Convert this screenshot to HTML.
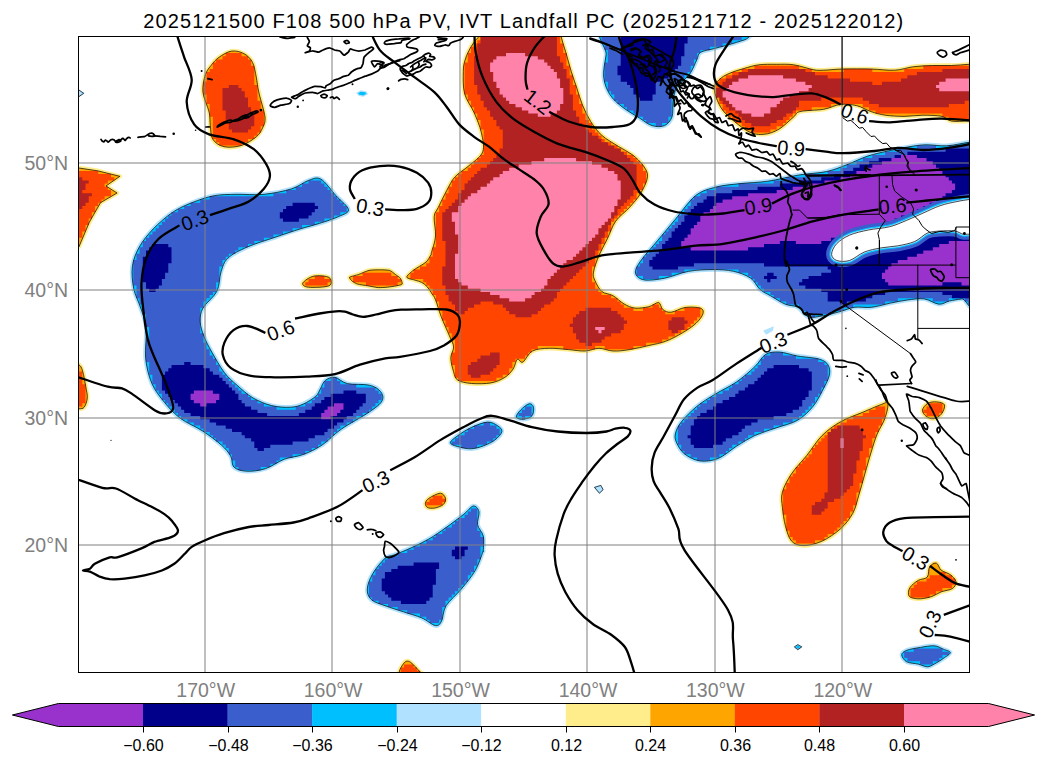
<!DOCTYPE html><html><head><meta charset="utf-8"><title>map</title><style>html,body{margin:0;padding:0;background:#fff;font-family:"Liberation Sans",sans-serif}svg{display:block}</style></head><body>
<svg width="1047" height="765" viewBox="0 0 1047 765">
<rect width="1047" height="765" fill="#fff"/>
<defs><clipPath id="ax"><rect x="78.5" y="36.5" width="891.0" height="636.0"/></clipPath></defs>
<g clip-path="url(#ax)">
<defs><path id="s0" d="M231.4 51.1C235.6 50.5 240.3 51.7 243.9 53.6C247.4 55.5 250.5 58.4 252.5 62.3C254.6 66.2 255.2 72.2 256.3 77.2C257.3 82.2 257.3 85.5 258.8 92.1C260.2 98.7 264.3 110.9 265.0 116.9C265.6 122.9 263.9 124.8 262.5 128.1C261.0 131.4 259.8 133.9 256.3 136.8C252.8 139.7 246.8 143.8 241.4 145.5C236.0 147.1 228.7 147.8 224.0 146.7C219.2 145.7 215.1 142.8 212.8 139.3C210.5 135.8 210.9 130.2 210.3 125.6C209.7 121.1 210.3 117.5 209.1 112.0C207.8 106.4 203.5 98.3 202.9 92.1C202.3 85.9 203.9 79.3 205.4 74.7C206.8 70.2 209.3 67.7 211.6 64.8C213.8 61.9 215.7 59.6 219.0 57.3C222.3 55.0 227.3 51.7 231.4 51.1Z"/></defs>
<use href="#s0" fill="#FFA500" stroke="#FFEC8B" stroke-width="4.4" stroke-linejoin="round"/>
<use href="#s0" fill="#FFA500"/>
<path d="M241.6 53.0L225.7 53.0L225.7 56.2L222.5 56.2L222.5 59.4L216.1 59.4L216.1 62.6L212.9 62.6L212.9 69.0L254.3 69.0L254.3 65.8L251.1 65.8L251.1 59.4L248.0 59.4L248.0 56.2L241.6 56.2ZM206.5 75.3L254.3 75.3L254.3 69.0L209.7 69.0L209.7 72.1L206.5 72.1ZM206.5 75.3L206.5 78.5L254.3 78.5L254.3 75.3ZM206.5 78.5L206.5 81.7L203.4 81.7L203.4 84.9L254.3 84.9L254.3 78.5ZM257.5 91.3L257.5 84.9L203.4 84.9L203.4 91.3ZM203.4 91.3L203.4 94.4L257.5 94.4L257.5 91.3ZM257.5 94.4L206.5 94.4L206.5 104.0L260.7 104.0L260.7 100.8L257.5 100.8ZM216.1 142.2L219.3 142.2L219.3 145.4L241.6 145.4L241.6 142.2L248.0 142.2L248.0 139.0L254.3 139.0L254.3 135.8L257.5 135.8L257.5 132.6L260.7 132.6L260.7 126.3L212.9 126.3L212.9 139.0L216.1 139.0ZM263.9 113.5L263.9 110.4L260.7 110.4L260.7 104.0L209.7 104.0L209.7 113.5ZM209.7 113.5L209.7 116.7L263.9 116.7L263.9 113.5ZM263.9 116.7L212.9 116.7L212.9 123.1L263.9 123.1ZM212.9 123.1L212.9 126.3L263.9 126.3L263.9 123.1Z" fill="#FF4500" fill-rule="evenodd"/>
<path d="M228.8 88.1L222.5 88.1L222.5 91.3L241.6 91.3L241.6 88.1L238.4 88.1L238.4 84.9L228.8 84.9ZM244.8 91.3L222.5 91.3L222.5 94.4L244.8 94.4ZM222.5 104.0L248.0 104.0L248.0 97.6L244.8 97.6L244.8 94.4L222.5 94.4ZM248.0 104.0L222.5 104.0L222.5 110.4L225.7 110.4L225.7 113.5L251.1 113.5L251.1 107.2L248.0 107.2ZM254.3 113.5L225.7 113.5L225.7 116.7L254.3 116.7ZM228.8 123.1L254.3 123.1L254.3 116.7L225.7 116.7L225.7 119.9L228.8 119.9ZM254.3 123.1L228.8 123.1L228.8 126.3L254.3 126.3ZM228.8 129.5L232.0 129.5L232.0 132.6L248.0 132.6L248.0 129.5L251.1 129.5L251.1 126.3L228.8 126.3Z" fill="#B22222" fill-rule="evenodd"/>
<defs><path id="s1" d="M70.0 166.6L78.9 168.0L97.7 170.8L119.9 176.3L106.0 186.0L117.1 193.0L100.5 202.7L89.4 222.1L78.9 247.0L70.0 249.8Z"/></defs>
<use href="#s1" fill="#FFA500" stroke="#FFEC8B" stroke-width="4.4" stroke-linejoin="round"/>
<use href="#s1" fill="#FFA500"/>
<path d="M75.9 167.7L72.8 167.7L72.8 247.3L79.1 247.3L79.1 237.7L82.3 237.7L82.3 231.4L85.5 231.4L85.5 225.0L88.7 225.0L88.7 218.6L91.9 218.6L91.9 212.3L95.1 212.3L95.1 205.9L98.2 205.9L98.2 202.7L101.4 202.7L101.4 199.5L104.6 199.5L104.6 196.3L111.0 196.3L111.0 190.0L107.8 190.0L107.8 186.8L104.6 186.8L104.6 183.6L107.8 183.6L107.8 180.4L114.2 180.4L114.2 177.2L111.0 177.2L111.0 174.0L98.2 174.0L98.2 170.9L75.9 170.9Z" fill="#FF4500" fill-rule="evenodd"/>
<path d="M82.3 177.2L69.6 177.2L69.6 212.3L79.1 212.3L79.1 209.1L82.3 209.1L82.3 205.9L85.5 205.9L85.5 202.7L88.7 202.7L88.7 196.3L91.9 196.3L91.9 193.2L82.3 193.2L82.3 190.0L85.5 190.0L85.5 183.6L88.7 183.6L88.7 180.4L82.3 180.4Z" fill="#B22222" fill-rule="evenodd"/>
<defs><path id="s2" d="M70.0 363.1C71.5 355.7 76.7 363.4 78.8 364.7C80.9 366.0 81.5 367.3 82.6 371.0C83.8 374.7 85.0 382.3 85.8 386.7C86.5 391.2 87.6 394.4 87.3 397.8C87.1 401.2 85.6 405.4 84.2 407.2C82.8 409.1 81.2 408.5 78.8 408.8C76.5 409.1 71.5 416.4 70.0 408.8C68.5 401.2 68.5 370.4 70.0 363.1Z"/></defs>
<use href="#s2" fill="#FFA500" stroke="#FFEC8B" stroke-width="4.4" stroke-linejoin="round"/>
<use href="#s2" fill="#FFA500"/>
<path d="M72.8 365.1L69.6 365.1L69.6 406.5L72.8 406.5L72.8 409.7L75.9 409.7L75.9 406.5L82.3 406.5L82.3 403.3L85.5 403.3L85.5 384.2L82.3 384.2L82.3 371.5L79.1 371.5L79.1 365.1L75.9 365.1L75.9 361.9L72.8 361.9Z" fill="#FF4500" fill-rule="evenodd"/>
<defs><path id="s3" d="M348.5 209.6C348.0 206.1 340.7 200.8 336.0 195.7C331.4 190.6 325.4 181.6 320.8 179.1C316.2 176.6 313.2 178.9 308.3 180.5C303.5 182.1 299.1 186.5 291.7 188.8C284.3 191.1 273.2 193.4 264.0 194.3C254.7 195.3 244.6 194.1 236.3 194.3C228.0 194.6 221.5 194.3 214.1 195.7C206.7 197.1 198.9 199.9 191.9 202.7C185.0 205.4 179.0 208.0 172.5 212.4C166.1 216.7 158.7 223.2 153.1 229.0C147.6 234.8 142.7 240.8 139.3 247.0C135.8 253.2 133.3 259.5 132.4 266.4C131.4 273.3 132.4 281.6 133.7 288.6C135.1 295.5 138.6 301.5 140.7 308.0C142.7 314.4 145.4 319.0 146.2 327.4C147.0 335.8 144.7 349.0 145.6 358.4C146.6 367.7 148.8 376.2 151.9 383.6C155.1 390.9 159.8 396.7 164.6 402.5C169.3 408.3 174.0 413.5 180.3 418.3C186.6 423.0 195.5 426.4 202.4 430.9C209.2 435.3 216.6 440.8 221.3 445.0C226.0 449.2 228.6 452.4 230.7 456.1C232.8 459.8 231.3 464.6 233.9 467.1C236.5 469.6 241.3 470.9 246.5 471.2C251.8 471.5 259.1 470.7 265.4 468.7C271.7 466.7 278.0 461.6 284.3 459.2C290.6 456.9 296.9 456.9 303.2 454.5C309.5 452.1 315.8 449.2 322.1 445.0C328.5 440.8 333.2 434.8 341.1 429.3C348.9 423.8 362.6 416.7 369.4 411.9C376.3 407.2 380.2 404.3 382.0 400.9C383.9 397.5 382.6 394.1 380.5 391.5C378.4 388.8 374.9 386.5 369.4 385.2C363.9 383.8 353.1 384.9 347.4 383.6C341.6 382.3 338.4 377.8 334.8 377.3C331.1 376.8 327.7 378.6 325.3 380.4C322.9 382.3 322.1 385.7 320.6 388.3C319.0 390.9 318.7 393.6 315.8 396.2C313.0 398.8 307.4 402.2 303.2 404.1C299.0 405.9 295.9 407.0 290.6 407.2C285.4 407.5 278.0 407.2 271.7 405.6C265.4 404.1 258.6 401.2 252.8 397.8C247.0 394.4 241.8 389.4 237.0 385.2C232.3 381.0 228.6 378.1 224.4 372.6C220.2 367.0 215.2 358.1 211.8 352.1C208.4 346.0 205.9 341.3 204.0 336.3C202.0 331.3 200.4 326.5 200.2 321.8C200.1 317.1 200.2 313.0 203.0 308.0C205.8 302.9 213.9 297.3 216.9 291.3C219.9 285.3 219.2 277.5 221.0 271.9C222.9 266.4 223.6 262.2 228.0 258.1C232.3 253.9 239.5 250.5 247.4 247.0C255.2 243.5 266.3 240.3 275.1 237.3C283.8 234.3 292.6 231.3 300.0 229.0C307.4 226.7 312.9 225.5 319.4 223.4C325.9 221.4 334.0 218.8 338.8 216.5C343.7 214.2 349.0 213.0 348.5 209.6Z"/></defs>
<use href="#s3" fill="#00BFFF" stroke="#B0E2FF" stroke-width="4.4" stroke-linejoin="round"/>
<use href="#s3" fill="#00BFFF"/>
<path d="M133.3 285.5L136.5 285.5L136.5 298.2L139.6 298.2L139.6 304.6L142.8 304.6L142.8 314.2L146.0 314.2L146.0 326.9L149.2 326.9L149.2 339.6L146.0 339.6L146.0 361.9L149.2 361.9L149.2 374.7L152.4 374.7L152.4 384.2L155.6 384.2L155.6 390.6L158.8 390.6L158.8 393.8L161.9 393.8L161.9 400.1L165.1 400.1L165.1 403.3L168.3 403.3L168.3 406.5L171.5 406.5L171.5 409.7L174.7 409.7L174.7 412.9L177.9 412.9L177.9 416.0L181.1 416.0L181.1 419.2L187.4 419.2L187.4 422.4L193.8 422.4L193.8 425.6L200.2 425.6L200.2 428.8L203.4 428.8L203.4 432.0L209.7 432.0L209.7 435.2L212.9 435.2L212.9 438.3L216.1 438.3L216.1 441.5L222.5 441.5L222.5 444.7L225.7 444.7L225.7 447.9L228.8 447.9L228.8 454.3L232.0 454.3L232.0 460.6L235.2 460.6L235.2 467.0L238.4 467.0L238.4 470.2L260.7 470.2L260.7 467.0L270.3 467.0L270.3 463.8L276.6 463.8L276.6 460.6L279.8 460.6L279.8 457.4L292.6 457.4L292.6 454.3L305.3 454.3L305.3 451.1L311.7 451.1L311.7 447.9L318.0 447.9L318.0 444.7L321.2 444.7L321.2 441.5L327.6 441.5L327.6 438.3L330.8 438.3L330.8 435.2L334.0 435.2L334.0 432.0L337.1 432.0L337.1 428.8L340.3 428.8L340.3 425.6L346.7 425.6L346.7 422.4L353.1 422.4L353.1 419.2L356.3 419.2L356.3 416.0L362.6 416.0L362.6 412.9L369.0 412.9L369.0 409.7L372.2 409.7L372.2 406.5L375.4 406.5L375.4 403.3L378.6 403.3L378.6 400.1L381.7 400.1L381.7 393.8L378.6 393.8L378.6 390.6L375.4 390.6L375.4 387.4L356.3 387.4L356.3 384.2L340.3 384.2L340.3 381.0L337.1 381.0L337.1 377.8L330.8 377.8L330.8 381.0L324.4 381.0L324.4 387.4L321.2 387.4L321.2 393.8L318.0 393.8L318.0 396.9L314.8 396.9L314.8 400.1L311.7 400.1L311.7 403.3L305.3 403.3L305.3 406.5L295.7 406.5L295.7 409.7L276.6 409.7L276.6 406.5L263.9 406.5L263.9 403.3L257.5 403.3L257.5 400.1L251.1 400.1L251.1 396.9L248.0 396.9L248.0 393.8L241.6 393.8L241.6 390.6L238.4 390.6L238.4 387.4L235.2 387.4L235.2 384.2L232.0 384.2L232.0 381.0L228.8 381.0L228.8 377.8L225.7 377.8L225.7 374.7L222.5 374.7L222.5 371.5L219.3 371.5L219.3 365.1L216.1 365.1L216.1 358.7L212.9 358.7L212.9 355.5L209.7 355.5L209.7 349.2L206.5 349.2L206.5 342.8L203.4 342.8L203.4 333.3L200.2 333.3L200.2 307.8L203.4 307.8L203.4 301.4L206.5 301.4L206.5 298.2L209.7 298.2L209.7 295.0L212.9 295.0L212.9 291.9L216.1 291.9L216.1 282.3L219.3 282.3L219.3 266.4L222.5 266.4L222.5 260.0L225.7 260.0L225.7 256.8L228.8 256.8L228.8 253.7L235.2 253.7L235.2 250.5L238.4 250.5L238.4 247.3L248.0 247.3L248.0 244.1L254.3 244.1L254.3 240.9L263.9 240.9L263.9 237.7L273.4 237.7L273.4 234.5L283.0 234.5L283.0 231.4L292.6 231.4L292.6 228.2L302.1 228.2L302.1 225.0L314.8 225.0L314.8 221.8L324.4 221.8L324.4 218.6L334.0 218.6L334.0 215.4L340.3 215.4L340.3 212.3L346.7 212.3L346.7 205.9L343.5 205.9L343.5 202.7L340.3 202.7L340.3 199.5L337.1 199.5L337.1 196.3L334.0 196.3L334.0 193.2L330.8 193.2L330.8 190.0L327.6 190.0L327.6 186.8L324.4 186.8L324.4 183.6L321.2 183.6L321.2 180.4L308.5 180.4L308.5 183.6L302.1 183.6L302.1 186.8L295.7 186.8L295.7 190.0L286.2 190.0L286.2 193.2L273.4 193.2L273.4 196.3L209.7 196.3L209.7 199.5L200.2 199.5L200.2 202.7L190.6 202.7L190.6 205.9L184.2 205.9L184.2 209.1L177.9 209.1L177.9 212.3L171.5 212.3L171.5 215.4L168.3 215.4L168.3 218.6L165.1 218.6L165.1 221.8L161.9 221.8L161.9 225.0L158.8 225.0L158.8 228.2L155.6 228.2L155.6 231.4L152.4 231.4L152.4 234.5L149.2 234.5L149.2 237.7L146.0 237.7L146.0 240.9L142.8 240.9L142.8 247.3L139.6 247.3L139.6 253.7L136.5 253.7L136.5 260.0L133.3 260.0Z" fill="#3A5FCD" fill-rule="evenodd"/>
<path d="M292.6 202.7L292.6 205.9L286.2 205.9L286.2 209.1L283.0 209.1L283.0 212.3L279.8 212.3L279.8 218.6L283.0 218.6L283.0 221.8L298.9 221.8L298.9 218.6L308.5 218.6L308.5 215.4L311.7 215.4L311.7 212.3L314.8 212.3L314.8 209.1L318.0 209.1L318.0 205.9L314.8 205.9L314.8 202.7Z" fill="#00008B" fill-rule="evenodd"/>
<path d="M142.8 282.3L146.0 282.3L146.0 288.7L149.2 288.7L149.2 291.9L155.6 291.9L155.6 288.7L158.8 288.7L158.8 285.5L161.9 285.5L161.9 279.1L165.1 279.1L165.1 272.8L168.3 272.8L168.3 263.2L171.5 263.2L171.5 247.3L168.3 247.3L168.3 244.1L152.4 244.1L152.4 247.3L149.2 247.3L149.2 250.5L146.0 250.5L146.0 256.8L142.8 256.8Z" fill="#00008B" fill-rule="evenodd"/>
<path d="M171.5 368.3L168.3 368.3L168.3 371.5L165.1 371.5L165.1 374.7L161.9 374.7L161.9 390.6L165.1 390.6L165.1 393.8L168.3 393.8L168.3 396.9L171.5 396.9L171.5 400.1L174.7 400.1L174.7 403.3L177.9 403.3L177.9 406.5L181.1 406.5L181.1 409.7L184.2 409.7L184.2 412.9L190.6 412.9L190.6 416.0L200.2 416.0L200.2 419.2L209.7 419.2L209.7 422.4L216.1 422.4L216.1 425.6L225.7 425.6L225.7 428.8L232.0 428.8L232.0 432.0L241.6 432.0L241.6 435.2L244.8 435.2L244.8 438.3L251.1 438.3L251.1 441.5L254.3 441.5L254.3 447.9L257.5 447.9L257.5 451.1L263.9 451.1L263.9 447.9L270.3 447.9L270.3 444.7L292.6 444.7L292.6 441.5L308.5 441.5L308.5 438.3L314.8 438.3L314.8 435.2L324.4 435.2L324.4 432.0L327.6 432.0L327.6 428.8L334.0 428.8L334.0 425.6L337.1 425.6L337.1 422.4L343.5 422.4L343.5 419.2L346.7 419.2L346.7 416.0L353.1 416.0L353.1 412.9L356.3 412.9L356.3 409.7L359.4 409.7L359.4 406.5L362.6 406.5L362.6 403.3L365.8 403.3L365.8 393.8L356.3 393.8L356.3 390.6L343.5 390.6L343.5 393.8L330.8 393.8L330.8 396.9L324.4 396.9L324.4 400.1L321.2 400.1L321.2 403.3L314.8 403.3L314.8 406.5L311.7 406.5L311.7 409.7L305.3 409.7L305.3 412.9L298.9 412.9L298.9 416.0L267.1 416.0L267.1 412.9L257.5 412.9L257.5 409.7L251.1 409.7L251.1 406.5L244.8 406.5L244.8 403.3L241.6 403.3L241.6 400.1L238.4 400.1L238.4 393.8L235.2 393.8L235.2 390.6L232.0 390.6L232.0 387.4L228.8 387.4L228.8 384.2L225.7 384.2L225.7 381.0L222.5 381.0L222.5 377.8L219.3 377.8L219.3 374.7L212.9 374.7L212.9 371.5L209.7 371.5L209.7 368.3L203.4 368.3L203.4 365.1L190.6 365.1L190.6 361.9L184.2 361.9L184.2 365.1L171.5 365.1Z" fill="#00008B" fill-rule="evenodd"/>
<path d="M193.8 390.6L193.8 393.8L190.6 393.8L190.6 400.1L193.8 400.1L193.8 403.3L200.2 403.3L200.2 406.5L206.5 406.5L206.5 403.3L216.1 403.3L216.1 400.1L219.3 400.1L219.3 393.8L212.9 393.8L212.9 390.6Z" fill="#9932CC" fill-rule="evenodd"/>
<path d="M334.0 403.3L334.0 406.5L327.6 406.5L327.6 409.7L324.4 409.7L324.4 412.9L321.2 412.9L321.2 419.2L330.8 419.2L330.8 416.0L337.1 416.0L337.1 412.9L340.3 412.9L340.3 409.7L343.5 409.7L343.5 403.3Z" fill="#9932CC" fill-rule="evenodd"/>
<defs><path id="s4" d="M485.4 21.7C472.2 24.0 481.3 32.1 479.3 35.5C477.4 39.0 475.5 39.9 473.8 42.5C472.0 45.0 470.3 47.8 468.8 50.8C467.3 53.8 465.8 57.0 464.9 60.5C464.0 63.9 463.3 66.0 463.3 71.6C463.2 77.1 462.8 86.8 464.6 93.7C466.5 100.7 471.6 106.7 474.3 113.1C477.1 119.6 479.9 126.1 481.3 132.5C482.7 139.0 484.7 146.4 482.7 151.9C480.6 157.5 473.4 161.6 468.8 165.8C464.2 169.9 458.6 172.7 454.9 176.9C451.2 181.0 449.4 185.7 446.6 190.7C443.9 195.8 440.4 203.0 438.3 207.4C436.2 211.7 434.6 211.8 434.2 216.6C433.7 221.4 436.0 230.0 435.5 236.0C435.1 242.0 432.2 249.5 431.4 252.7C430.6 255.8 431.7 253.4 430.9 254.9C430.0 256.4 428.2 259.9 426.3 261.8C424.4 263.7 421.7 264.8 419.4 266.4C417.1 267.9 414.6 269.1 412.5 270.9C410.4 272.8 406.4 275.7 406.8 277.2C407.2 278.8 412.3 279.3 414.8 280.1C417.3 281.0 419.6 281.3 421.7 282.4C423.8 283.6 425.7 285.1 427.4 287.0C429.1 288.9 430.7 291.7 432.0 293.9C433.4 296.0 434.0 296.0 435.5 299.8C437.1 303.5 438.8 310.4 441.1 316.4C443.4 322.4 447.3 330.7 449.4 335.8C451.5 340.9 453.3 343.2 453.6 346.9C453.8 350.6 450.8 353.8 450.8 358.0C450.8 362.1 452.4 368.1 453.6 371.8C454.7 375.5 454.7 378.2 457.7 380.1C460.7 382.1 466.0 383.0 471.6 383.5C477.1 383.9 485.4 383.9 491.0 382.9C496.5 381.9 501.1 379.7 504.8 377.4C508.5 375.1 511.1 372.0 513.1 369.0C515.2 366.0 515.7 360.5 517.3 359.3C518.9 358.2 520.3 363.5 522.8 362.1C525.4 360.7 528.1 353.3 532.5 351.0C536.9 348.7 543.2 348.5 549.2 348.3C555.2 348.0 562.6 349.2 568.6 349.6C574.6 350.1 580.1 351.3 585.2 351.0C590.3 350.8 594.4 348.3 599.0 348.3C603.7 348.3 607.8 350.8 612.9 351.0C618.0 351.3 623.5 350.6 629.5 349.6C635.5 348.7 642.9 346.9 648.9 345.5C654.9 344.1 660.0 343.4 665.6 341.3C671.1 339.3 677.1 336.0 682.2 333.0C687.3 330.0 692.6 326.6 696.0 323.3C699.5 320.1 702.3 316.2 703.0 313.6C703.7 311.1 703.2 309.1 700.2 308.1C697.2 307.1 689.8 306.8 685.0 307.5C680.1 308.2 674.8 311.9 671.1 312.2C667.4 312.6 664.9 311.1 662.8 309.5C660.7 307.8 660.9 303.0 658.6 302.5C656.3 302.1 652.9 305.8 648.9 306.7C645.0 307.6 639.2 308.5 635.1 308.1C630.9 307.6 627.7 306.0 624.0 303.9C620.3 301.8 616.6 297.7 612.9 295.6C609.2 293.5 604.8 294.0 601.8 291.5C598.8 288.9 596.3 283.6 594.9 280.4C593.5 277.1 592.8 276.2 593.5 272.1C594.2 267.9 596.7 261.0 599.0 255.4C601.4 249.9 604.6 244.5 607.4 238.8C610.1 233.1 612.0 226.5 615.7 221.2C619.4 216.0 625.4 212.0 629.5 207.4C633.7 202.7 637.6 198.6 640.6 193.5C643.6 188.4 647.1 181.5 647.5 176.9C648.0 172.3 645.9 169.5 643.4 165.8C640.8 162.1 636.5 157.9 632.3 154.7C628.1 151.5 623.5 149.6 618.4 146.4C613.4 143.2 606.4 139.5 601.8 135.3C597.2 131.2 594.0 126.5 590.7 121.5C587.5 116.4 584.7 110.4 582.4 104.8C580.1 99.3 578.7 93.7 576.9 88.2C575.0 82.7 573.2 77.6 571.3 71.6C569.5 65.6 567.5 58.2 565.8 52.2C564.0 46.2 562.0 40.6 560.8 35.5C559.6 30.5 571.4 24.0 558.9 21.7C546.3 19.4 498.7 19.4 485.4 21.7Z"/></defs>
<use href="#s4" fill="#FFA500" stroke="#FFEC8B" stroke-width="4.4" stroke-linejoin="round"/>
<use href="#s4" fill="#FFA500"/>
<path d="M467.8 62.6L464.6 62.6L464.6 69.0L569.7 69.0L569.7 65.8L566.5 65.8L566.5 53.0L563.3 53.0L563.3 43.5L560.1 43.5L560.1 27.6L480.5 27.6L480.5 40.3L477.3 40.3L477.3 43.5L474.1 43.5L474.1 46.7L470.9 46.7L470.9 53.0L467.8 53.0ZM569.7 75.3L569.7 69.0L464.6 69.0L464.6 75.3ZM432.7 256.8L429.5 256.8L429.5 263.2L426.3 263.2L426.3 266.4L420.0 266.4L420.0 269.6L413.6 269.6L413.6 272.8L410.4 272.8L410.4 279.1L423.2 279.1L423.2 282.3L426.3 282.3L426.3 285.5L429.5 285.5L429.5 288.7L432.7 288.7L432.7 295.0L435.9 295.0L435.9 301.4L439.1 301.4L439.1 311.0L442.3 311.0L442.3 320.5L445.5 320.5L445.5 326.9L448.6 326.9L448.6 333.3L451.8 333.3L451.8 339.6L455.0 339.6L455.0 352.4L451.8 352.4L451.8 365.1L455.0 365.1L455.0 377.8L458.2 377.8L458.2 381.0L496.4 381.0L496.4 377.8L502.8 377.8L502.8 374.7L509.2 374.7L509.2 368.3L512.4 368.3L512.4 361.9L515.5 361.9L515.5 358.7L525.1 358.7L525.1 355.5L528.3 355.5L528.3 352.4L531.5 352.4L531.5 349.2L537.8 349.2L537.8 346.0L563.3 346.0L563.3 349.2L595.2 349.2L595.2 346.0L604.7 346.0L604.7 349.2L633.4 349.2L633.4 346.0L646.1 346.0L646.1 342.8L662.1 342.8L662.1 339.6L668.4 339.6L668.4 336.4L674.8 336.4L674.8 333.3L681.2 333.3L681.2 330.1L687.6 330.1L687.6 326.9L690.7 326.9L690.7 323.7L693.9 323.7L693.9 320.5L697.1 320.5L697.1 317.3L700.3 317.3L700.3 307.8L684.4 307.8L684.4 311.0L674.8 311.0L674.8 314.2L665.3 314.2L665.3 311.0L662.1 311.0L662.1 307.8L658.9 307.8L658.9 304.6L652.5 304.6L652.5 307.8L643.0 307.8L643.0 311.0L633.4 311.0L633.4 307.8L623.8 307.8L623.8 304.6L620.7 304.6L620.7 301.4L617.5 301.4L617.5 298.2L611.1 298.2L611.1 295.0L601.5 295.0L601.5 291.9L598.4 291.9L598.4 288.7L595.2 288.7L595.2 282.3L592.0 282.3L592.0 266.4L595.2 266.4L595.2 256.8L598.4 256.8L598.4 250.5L601.5 250.5L601.5 244.1L604.7 244.1L604.7 237.7L607.9 237.7L607.9 231.4L611.1 231.4L611.1 221.8L614.3 221.8L614.3 218.6L617.5 218.6L617.5 215.4L620.7 215.4L620.7 212.3L623.8 212.3L623.8 209.1L627.0 209.1L627.0 205.9L630.2 205.9L630.2 202.7L633.4 202.7L633.4 199.5L636.6 199.5L636.6 193.2L639.8 193.2L639.8 190.0L643.0 190.0L643.0 183.6L646.1 183.6L646.1 170.9L643.0 170.9L643.0 164.5L639.8 164.5L639.8 161.3L636.6 161.3L636.6 158.1L633.4 158.1L633.4 154.9L627.0 154.9L627.0 151.8L620.7 151.8L620.7 148.6L617.5 148.6L617.5 145.4L611.1 145.4L611.1 142.2L604.7 142.2L604.7 139.0L601.5 139.0L601.5 135.8L598.4 135.8L598.4 132.6L595.2 132.6L595.2 129.5L592.0 129.5L592.0 126.3L480.5 126.3L480.5 129.5L483.7 129.5L483.7 154.9L480.5 154.9L480.5 158.1L477.3 158.1L477.3 161.3L474.1 161.3L474.1 164.5L470.9 164.5L470.9 167.7L467.8 167.7L467.8 170.9L461.4 170.9L461.4 174.0L458.2 174.0L458.2 177.2L455.0 177.2L455.0 180.4L451.8 180.4L451.8 186.8L448.6 186.8L448.6 193.2L445.5 193.2L445.5 199.5L442.3 199.5L442.3 205.9L439.1 205.9L439.1 212.3L435.9 212.3L435.9 247.3L432.7 247.3ZM563.3 24.4L556.9 24.4L556.9 21.2L490.1 21.2L490.1 24.4L480.5 24.4L480.5 27.6L563.3 27.6ZM572.9 78.5L572.9 75.3L464.6 75.3L464.6 78.5ZM464.6 84.9L572.9 84.9L572.9 78.5L464.6 78.5ZM576.1 84.9L464.6 84.9L464.6 91.3L576.1 91.3ZM576.1 94.4L576.1 91.3L464.6 91.3L464.6 94.4ZM467.8 94.4L467.8 100.8L470.9 100.8L470.9 104.0L579.2 104.0L579.2 94.4ZM582.4 104.0L470.9 104.0L470.9 107.2L474.1 107.2L474.1 113.5L582.4 113.5ZM585.6 116.7L585.6 113.5L477.3 113.5L477.3 116.7ZM480.5 119.9L480.5 123.1L588.8 123.1L588.8 119.9L585.6 119.9L585.6 116.7L477.3 116.7L477.3 119.9ZM592.0 126.3L592.0 123.1L480.5 123.1L480.5 126.3Z" fill="#FF4500" fill-rule="evenodd"/>
<path d="M477.3 56.2L474.1 56.2L474.1 69.0L563.3 69.0L563.3 62.6L560.1 62.6L560.1 56.2L556.9 56.2L556.9 30.8L547.4 30.8L547.4 27.6L493.2 27.6L493.2 30.8L483.7 30.8L483.7 33.9L480.5 33.9L480.5 43.5L477.3 43.5ZM445.5 266.4L442.3 266.4L442.3 285.5L445.5 285.5L445.5 295.0L448.6 295.0L448.6 301.4L451.8 301.4L451.8 304.6L455.0 304.6L455.0 311.0L458.2 311.0L458.2 314.2L464.6 314.2L464.6 311.0L467.8 311.0L467.8 307.8L474.1 307.8L474.1 304.6L480.5 304.6L480.5 301.4L493.2 301.4L493.2 304.6L502.8 304.6L502.8 307.8L506.0 307.8L506.0 311.0L509.2 311.0L509.2 314.2L515.5 314.2L515.5 317.3L531.5 317.3L531.5 314.2L537.8 314.2L537.8 311.0L541.0 311.0L541.0 307.8L544.2 307.8L544.2 304.6L550.6 304.6L550.6 301.4L553.8 301.4L553.8 298.2L556.9 298.2L556.9 291.9L560.1 291.9L560.1 288.7L563.3 288.7L563.3 285.5L566.5 285.5L566.5 282.3L569.7 282.3L569.7 279.1L572.9 279.1L572.9 275.9L576.1 275.9L576.1 272.8L579.2 272.8L579.2 269.6L582.4 269.6L582.4 266.4L585.6 266.4L585.6 263.2L588.8 263.2L588.8 260.0L592.0 260.0L592.0 256.8L595.2 256.8L595.2 250.5L598.4 250.5L598.4 244.1L601.5 244.1L601.5 237.7L604.7 237.7L604.7 231.4L607.9 231.4L607.9 225.0L611.1 225.0L611.1 218.6L614.3 218.6L614.3 215.4L617.5 215.4L617.5 209.1L620.7 209.1L620.7 205.9L623.8 205.9L623.8 202.7L627.0 202.7L627.0 199.5L630.2 199.5L630.2 196.3L633.4 196.3L633.4 190.0L636.6 190.0L636.6 164.5L633.4 164.5L633.4 161.3L630.2 161.3L630.2 158.1L627.0 158.1L627.0 154.9L623.8 154.9L623.8 151.8L620.7 151.8L620.7 148.6L614.3 148.6L614.3 145.4L607.9 145.4L607.9 142.2L601.5 142.2L601.5 139.0L598.4 139.0L598.4 135.8L592.0 135.8L592.0 132.6L588.8 132.6L588.8 129.5L585.6 129.5L585.6 126.3L499.6 126.3L499.6 129.5L502.8 129.5L502.8 148.6L499.6 148.6L499.6 154.9L496.4 154.9L496.4 158.1L493.2 158.1L493.2 161.3L490.1 161.3L490.1 164.5L486.9 164.5L486.9 167.7L480.5 167.7L480.5 170.9L477.3 170.9L477.3 174.0L474.1 174.0L474.1 177.2L470.9 177.2L470.9 180.4L467.8 180.4L467.8 183.6L464.6 183.6L464.6 190.0L461.4 190.0L461.4 193.2L458.2 193.2L458.2 199.5L455.0 199.5L455.0 202.7L451.8 202.7L451.8 205.9L448.6 205.9L448.6 209.1L445.5 209.1L445.5 212.3L442.3 212.3L442.3 240.9L445.5 240.9ZM566.5 75.3L566.5 69.0L474.1 69.0L474.1 75.3ZM566.5 78.5L566.5 75.3L474.1 75.3L474.1 78.5ZM474.1 84.9L569.7 84.9L569.7 78.5L474.1 78.5ZM569.7 84.9L477.3 84.9L477.3 91.3L569.7 91.3ZM477.3 94.4L569.7 94.4L569.7 91.3L477.3 91.3ZM572.9 104.0L572.9 94.4L480.5 94.4L480.5 100.8L483.7 100.8L483.7 104.0ZM490.1 113.5L576.1 113.5L576.1 110.4L572.9 110.4L572.9 104.0L483.7 104.0L483.7 107.2L486.9 107.2L486.9 110.4L490.1 110.4ZM576.1 116.7L576.1 113.5L490.1 113.5L490.1 116.7ZM496.4 119.9L496.4 123.1L579.2 123.1L579.2 116.7L493.2 116.7L493.2 119.9ZM582.4 126.3L582.4 123.1L496.4 123.1L496.4 126.3Z" fill="#B22222" fill-rule="evenodd"/>
<path d="M496.4 56.2L496.4 59.4L493.2 59.4L493.2 62.6L490.1 62.6L490.1 69.0L550.6 69.0L550.6 65.8L547.4 65.8L547.4 62.6L544.2 62.6L544.2 59.4L537.8 59.4L537.8 56.2L525.1 56.2L525.1 53.0L506.0 53.0L506.0 56.2ZM493.2 72.1L493.2 75.3L556.9 75.3L556.9 72.1L553.8 72.1L553.8 69.0L490.1 69.0L490.1 72.1ZM556.9 75.3L493.2 75.3L493.2 78.5L556.9 78.5ZM493.2 78.5L493.2 81.7L496.4 81.7L496.4 84.9L560.1 84.9L560.1 78.5ZM496.4 84.9L496.4 88.1L499.6 88.1L499.6 91.3L563.3 91.3L563.3 88.1L560.1 88.1L560.1 84.9ZM563.3 91.3L499.6 91.3L499.6 94.4L563.3 94.4ZM506.0 100.8L509.2 100.8L509.2 104.0L563.3 104.0L563.3 94.4L502.8 94.4L502.8 97.6L506.0 97.6ZM521.9 110.4L528.3 110.4L528.3 113.5L556.9 113.5L556.9 110.4L560.1 110.4L560.1 104.0L515.5 104.0L515.5 107.2L521.9 107.2ZM537.8 113.5L537.8 116.7L550.6 116.7L550.6 113.5Z" fill="#FF82AB" fill-rule="evenodd"/>
<path d="M455.0 279.1L458.2 279.1L458.2 282.3L461.4 282.3L461.4 285.5L467.8 285.5L467.8 288.7L480.5 288.7L480.5 291.9L490.1 291.9L490.1 295.0L499.6 295.0L499.6 298.2L509.2 298.2L509.2 301.4L525.1 301.4L525.1 298.2L531.5 298.2L531.5 295.0L534.6 295.0L534.6 291.9L541.0 291.9L541.0 288.7L544.2 288.7L544.2 285.5L547.4 285.5L547.4 279.1L550.6 279.1L550.6 275.9L553.8 275.9L553.8 272.8L556.9 272.8L556.9 269.6L560.1 269.6L560.1 266.4L563.3 266.4L563.3 263.2L566.5 263.2L566.5 260.0L572.9 260.0L572.9 256.8L576.1 256.8L576.1 253.7L579.2 253.7L579.2 250.5L582.4 250.5L582.4 247.3L585.6 247.3L585.6 244.1L588.8 244.1L588.8 240.9L592.0 240.9L592.0 237.7L595.2 237.7L595.2 234.5L598.4 234.5L598.4 228.2L601.5 228.2L601.5 225.0L604.7 225.0L604.7 221.8L607.9 221.8L607.9 218.6L611.1 218.6L611.1 212.3L614.3 212.3L614.3 205.9L617.5 205.9L617.5 199.5L620.7 199.5L620.7 180.4L617.5 180.4L617.5 174.0L614.3 174.0L614.3 170.9L607.9 170.9L607.9 167.7L601.5 167.7L601.5 164.5L592.0 164.5L592.0 161.3L576.1 161.3L576.1 158.1L544.2 158.1L544.2 161.3L531.5 161.3L531.5 164.5L518.7 164.5L518.7 167.7L509.2 167.7L509.2 170.9L502.8 170.9L502.8 174.0L499.6 174.0L499.6 177.2L493.2 177.2L493.2 180.4L490.1 180.4L490.1 183.6L486.9 183.6L486.9 186.8L480.5 186.8L480.5 190.0L477.3 190.0L477.3 193.2L470.9 193.2L470.9 196.3L467.8 196.3L467.8 199.5L464.6 199.5L464.6 202.7L461.4 202.7L461.4 205.9L458.2 205.9L458.2 212.3L451.8 212.3L451.8 221.8L455.0 221.8L455.0 234.5L458.2 234.5L458.2 253.7L455.0 253.7Z" fill="#FF82AB" fill-rule="evenodd"/>
<path d="M572.9 326.9L572.9 333.3L576.1 333.3L576.1 339.6L579.2 339.6L579.2 342.8L585.6 342.8L585.6 346.0L592.0 346.0L592.0 342.8L601.5 342.8L601.5 339.6L604.7 339.6L604.7 336.4L611.1 336.4L611.1 333.3L620.7 333.3L620.7 330.1L623.8 330.1L623.8 323.7L627.0 323.7L627.0 320.5L623.8 320.5L623.8 317.3L620.7 317.3L620.7 314.2L617.5 314.2L617.5 311.0L611.1 311.0L611.1 307.8L585.6 307.8L585.6 311.0L579.2 311.0L579.2 314.2L576.1 314.2L576.1 317.3L572.9 317.3L572.9 323.7L569.7 323.7L569.7 326.9Z" fill="#B22222" fill-rule="evenodd"/>
<path d="M604.7 330.1L604.7 326.9L595.2 326.9L595.2 330.1L598.4 330.1L598.4 333.3L601.5 333.3L601.5 330.1Z" fill="#FF82AB" fill-rule="evenodd"/>
<path d="M671.6 317.3L671.6 320.5L668.4 320.5L668.4 330.1L671.6 330.1L671.6 333.3L678.0 333.3L678.0 330.1L684.4 330.1L684.4 323.7L687.6 323.7L687.6 320.5L684.4 320.5L684.4 317.3Z" fill="#B22222" fill-rule="evenodd"/>
<path d="M490.1 355.5L480.5 355.5L480.5 358.7L477.3 358.7L477.3 361.9L470.9 361.9L470.9 365.1L467.8 365.1L467.8 374.7L470.9 374.7L470.9 377.8L480.5 377.8L480.5 374.7L490.1 374.7L490.1 371.5L493.2 371.5L493.2 368.3L496.4 368.3L496.4 365.1L499.6 365.1L499.6 352.4L490.1 352.4Z" fill="#B22222" fill-rule="evenodd"/>
<defs><path id="s5" d="M302.8 283.0C303.7 281.2 309.5 277.0 313.9 276.1C318.3 275.2 326.6 275.9 329.1 277.5C331.7 279.1 332.6 284.2 329.1 285.8C325.6 287.4 312.7 287.6 308.3 287.2C303.9 286.7 301.9 284.9 302.8 283.0Z"/></defs>
<use href="#s5" fill="#FFA500" stroke="#FFEC8B" stroke-width="4.4" stroke-linejoin="round"/>
<use href="#s5" fill="#FFA500"/>
<path d="M324.4 275.9L314.8 275.9L314.8 279.1L308.5 279.1L308.5 282.3L305.3 282.3L305.3 285.5L327.6 285.5L327.6 282.3L330.8 282.3L330.8 279.1L324.4 279.1Z" fill="#FF4500" fill-rule="evenodd"/>
<defs><path id="s6" d="M349.5 277.2C350.1 276.6 356.7 275.1 358.7 274.4C360.6 273.7 366.9 270.8 369.0 270.4C371.0 269.9 377.2 269.8 379.3 269.8C381.3 269.8 388.0 269.9 389.6 270.4C391.2 270.8 394.2 273.6 395.3 274.4C396.4 275.2 399.8 277.4 400.5 278.4C401.2 279.4 402.6 283.4 402.2 284.1C401.8 284.9 398.0 285.5 396.5 285.8C395.0 286.2 389.1 287.0 387.3 287.2C385.5 287.4 380.1 287.7 378.1 287.6C376.2 287.4 369.9 286.2 367.8 285.8C365.8 285.5 359.1 284.6 357.5 284.1C356.0 283.7 353.2 281.9 352.3 281.3C351.5 280.6 348.9 277.9 349.5 277.2Z"/></defs>
<use href="#s6" fill="#FFA500" stroke="#FFEC8B" stroke-width="4.4" stroke-linejoin="round"/>
<use href="#s6" fill="#FFA500"/>
<path d="M362.6 272.8L362.6 275.9L353.1 275.9L353.1 282.3L365.8 282.3L365.8 285.5L397.7 285.5L397.7 282.3L400.9 282.3L400.9 279.1L397.7 279.1L397.7 275.9L391.3 275.9L391.3 272.8Z" fill="#FF4500" fill-rule="evenodd"/>
<defs><path id="s7" d="M473.3 506.0C475.9 505.6 478.3 508.7 479.0 511.8C479.7 514.9 476.9 520.6 477.6 524.7C478.3 528.7 482.4 531.8 483.3 536.1C484.3 540.4 483.4 547.8 483.3 550.5C483.2 553.1 484.2 548.9 482.8 552.2C481.5 555.6 478.7 564.5 475.2 570.6C471.6 576.7 466.3 583.0 461.4 588.9C456.6 594.8 449.5 600.4 446.1 605.7C442.8 611.1 443.3 617.7 441.6 621.0C439.8 624.3 438.8 626.1 435.4 625.6C432.1 625.1 427.0 620.2 421.7 617.9C416.3 615.6 409.5 613.9 403.4 611.8C397.2 609.8 390.4 607.7 385.0 605.7C379.7 603.7 374.2 602.4 371.3 599.6C368.3 596.8 367.0 593.2 367.3 588.9C367.5 584.6 369.8 578.7 372.8 573.6C375.7 568.5 381.4 561.5 385.0 558.3C388.6 555.2 390.1 556.5 394.5 554.8C398.9 553.0 406.0 550.2 411.7 547.6C417.4 545.0 423.2 542.3 428.9 539.0C434.6 535.7 440.3 531.6 446.1 527.5C451.8 523.5 458.7 518.2 463.3 514.6C467.8 511.1 470.7 506.5 473.3 506.0Z"/></defs>
<use href="#s7" fill="#00BFFF" stroke="#B0E2FF" stroke-width="4.4" stroke-linejoin="round"/>
<use href="#s7" fill="#00BFFF"/>
<path d="M381.7 565.7L378.6 565.7L378.6 568.9L375.4 568.9L375.4 575.3L372.2 575.3L372.2 581.6L369.0 581.6L369.0 597.6L372.2 597.6L372.2 600.7L378.6 600.7L378.6 603.9L388.1 603.9L388.1 607.1L397.7 607.1L397.7 610.3L407.2 610.3L407.2 613.5L420.0 613.5L420.0 616.7L426.3 616.7L426.3 619.8L429.5 619.8L429.5 623.0L439.1 623.0L439.1 619.8L442.3 619.8L442.3 607.1L445.5 607.1L445.5 600.7L448.6 600.7L448.6 597.6L451.8 597.6L451.8 594.4L455.0 594.4L455.0 591.2L458.2 591.2L458.2 588.0L461.4 588.0L461.4 584.8L464.6 584.8L464.6 581.6L467.8 581.6L467.8 575.3L470.9 575.3L470.9 572.1L474.1 572.1L474.1 565.7L477.3 565.7L477.3 559.3L480.5 559.3L480.5 546.6L483.7 546.6L483.7 537.0L480.5 537.0L480.5 530.7L477.3 530.7L477.3 508.4L470.9 508.4L470.9 511.6L467.8 511.6L467.8 514.8L464.6 514.8L464.6 517.9L458.2 517.9L458.2 521.1L455.0 521.1L455.0 524.3L451.8 524.3L451.8 527.5L445.5 527.5L445.5 530.7L442.3 530.7L442.3 533.9L435.9 533.9L435.9 537.0L432.7 537.0L432.7 540.2L426.3 540.2L426.3 543.4L420.0 543.4L420.0 546.6L413.6 546.6L413.6 549.8L407.2 549.8L407.2 553.0L397.7 553.0L397.7 556.2L388.1 556.2L388.1 559.3L384.9 559.3L384.9 562.5L381.7 562.5Z" fill="#3A5FCD" fill-rule="evenodd"/>
<path d="M384.9 578.4L381.7 578.4L381.7 591.2L384.9 591.2L384.9 594.4L388.1 594.4L388.1 597.6L391.3 597.6L391.3 600.7L400.9 600.7L400.9 603.9L426.3 603.9L426.3 600.7L429.5 600.7L429.5 597.6L432.7 597.6L432.7 584.8L435.9 584.8L435.9 568.9L439.1 568.9L439.1 562.5L413.6 562.5L413.6 565.7L397.7 565.7L397.7 568.9L391.3 568.9L391.3 572.1L384.9 572.1Z" fill="#00008B" fill-rule="evenodd"/>
<path d="M467.8 546.6L455.0 546.6L455.0 549.8L451.8 549.8L451.8 556.2L455.0 556.2L455.0 559.3L461.4 559.3L461.4 556.2L464.6 556.2L464.6 549.8L467.8 549.8Z" fill="#00008B" fill-rule="evenodd"/>
<defs><path id="s8" d="M450.4 443.0C449.9 441.1 454.0 438.5 457.5 435.8C461.1 433.2 466.8 429.5 471.9 427.2C476.9 425.0 483.3 422.3 487.6 422.1C491.9 421.9 495.3 424.2 497.7 425.8C500.0 427.4 502.4 429.2 501.9 431.5C501.5 433.9 497.9 437.8 494.8 440.1C491.7 442.5 487.1 444.4 483.3 445.9C479.5 447.3 475.7 448.5 471.9 448.7C468.0 449.0 464.0 448.3 460.4 447.3C456.8 446.4 450.9 444.9 450.4 443.0Z"/></defs>
<use href="#s8" fill="#00BFFF" stroke="#B0E2FF" stroke-width="4.4" stroke-linejoin="round"/>
<use href="#s8" fill="#00BFFF"/>
<path d="M483.7 425.6L474.1 425.6L474.1 428.8L467.8 428.8L467.8 432.0L464.6 432.0L464.6 435.2L458.2 435.2L458.2 438.3L455.0 438.3L455.0 441.5L451.8 441.5L451.8 444.7L461.4 444.7L461.4 447.9L477.3 447.9L477.3 444.7L486.9 444.7L486.9 441.5L493.2 441.5L493.2 438.3L496.4 438.3L496.4 435.2L499.6 435.2L499.6 428.8L496.4 428.8L496.4 425.6L490.1 425.6L490.1 422.4L483.7 422.4Z" fill="#3A5FCD" fill-rule="evenodd"/>
<defs><path id="s9" d="M516.3 417.2C515.8 415.7 518.4 412.3 520.6 410.1C522.7 407.8 527.0 404.2 529.2 403.8C531.3 403.3 533.0 405.2 533.5 407.2C533.9 409.2 533.7 413.8 532.0 415.8C530.4 417.8 526.1 419.0 523.4 419.2C520.8 419.5 516.8 418.7 516.3 417.2Z"/></defs>
<use href="#s9" fill="#00BFFF" stroke="#B0E2FF" stroke-width="4.4" stroke-linejoin="round"/>
<use href="#s9" fill="#00BFFF"/>
<path d="M525.1 406.5L525.1 409.7L521.9 409.7L521.9 412.9L518.7 412.9L518.7 416.0L521.9 416.0L521.9 419.2L525.1 419.2L525.1 416.0L531.5 416.0L531.5 406.5Z" fill="#3A5FCD" fill-rule="evenodd"/>
<defs><path id="s10" d="M425.4 503.2C425.7 501.7 426.4 500.0 428.9 498.3C431.4 496.6 437.6 493.2 440.3 493.2C443.1 493.2 445.0 496.4 445.5 498.3C446.0 500.2 445.0 503.0 443.2 504.6C441.4 506.2 437.2 507.6 434.6 508.1C432.0 508.5 429.0 508.3 427.4 507.5C425.9 506.7 425.2 504.7 425.4 503.2Z"/></defs>
<use href="#s10" fill="#FFA500" stroke="#FFEC8B" stroke-width="4.4" stroke-linejoin="round"/>
<use href="#s10" fill="#FFA500"/>
<path d="M442.3 495.7L432.7 495.7L432.7 498.8L429.5 498.8L429.5 502.0L426.3 502.0L426.3 505.2L442.3 505.2L442.3 502.0L445.5 502.0L445.5 498.8L442.3 498.8Z" fill="#FF4500" fill-rule="evenodd"/>
<defs><path id="s11" d="M400.3 674.5C397.2 672.7 401.8 665.9 403.4 663.8C404.9 661.6 406.7 660.3 409.5 661.6C412.3 663.0 418.1 669.9 420.2 672.0C422.2 674.2 425.0 674.1 421.7 674.5C418.4 674.9 403.4 676.3 400.3 674.5Z"/></defs>
<use href="#s11" fill="#FFA500" stroke="#FFEC8B" stroke-width="4.4" stroke-linejoin="round"/>
<use href="#s11" fill="#FFA500"/>
<path d="M413.6 664.4L404.0 664.4L404.0 667.6L400.9 667.6L400.9 674.0L420.0 674.0L420.0 670.8L416.8 670.8L416.8 667.6L413.6 667.6Z" fill="#FF4500" fill-rule="evenodd"/>
<defs><path id="s12" d="M675.3 434.0C676.1 430.4 677.8 426.4 681.4 421.8C685.0 417.2 691.1 411.1 696.7 406.5C702.3 401.9 708.4 398.3 715.1 394.2C721.7 390.2 729.8 386.6 736.5 382.0C743.1 377.4 750.0 371.3 754.8 366.7C759.7 362.1 761.5 356.9 765.5 354.5C769.6 352.0 773.9 351.8 779.3 352.0C784.6 352.3 791.0 354.8 797.6 356.0C804.3 357.2 814.0 357.5 819.1 359.1C824.2 360.6 826.6 362.4 828.2 365.2C829.9 368.0 830.2 371.5 829.2 375.9C828.1 380.2 824.8 386.1 822.1 391.2C819.4 396.3 817.0 401.6 812.9 406.5C808.9 411.3 803.8 416.7 797.6 420.2C791.5 423.8 783.4 425.3 776.2 427.9C769.1 430.4 761.5 432.5 754.8 435.5C748.2 438.6 742.6 442.4 736.5 446.2C730.4 450.1 724.2 456.0 718.1 458.5C712.0 460.9 705.4 461.7 699.8 460.9C694.2 460.2 688.3 456.8 684.5 453.9C680.6 450.9 678.4 446.5 676.8 443.2C675.3 439.9 674.5 437.6 675.3 434.0Z"/></defs>
<use href="#s12" fill="#00BFFF" stroke="#B0E2FF" stroke-width="4.4" stroke-linejoin="round"/>
<use href="#s12" fill="#00BFFF"/>
<path d="M693.9 409.7L693.9 412.9L690.7 412.9L690.7 416.0L687.6 416.0L687.6 419.2L684.4 419.2L684.4 422.4L681.2 422.4L681.2 425.6L678.0 425.6L678.0 444.7L681.2 444.7L681.2 451.1L684.4 451.1L684.4 454.3L690.7 454.3L690.7 457.4L697.1 457.4L697.1 460.6L709.9 460.6L709.9 457.4L719.4 457.4L719.4 454.3L725.8 454.3L725.8 451.1L729.0 451.1L729.0 447.9L732.2 447.9L732.2 444.7L738.5 444.7L738.5 441.5L744.9 441.5L744.9 438.3L748.1 438.3L748.1 435.2L754.4 435.2L754.4 432.0L764.0 432.0L764.0 428.8L773.6 428.8L773.6 425.6L783.1 425.6L783.1 422.4L792.7 422.4L792.7 419.2L799.0 419.2L799.0 416.0L802.2 416.0L802.2 412.9L805.4 412.9L805.4 409.7L808.6 409.7L808.6 406.5L811.8 406.5L811.8 403.3L815.0 403.3L815.0 396.9L818.2 396.9L818.2 393.8L821.3 393.8L821.3 387.4L824.5 387.4L824.5 381.0L827.7 381.0L827.7 365.1L824.5 365.1L824.5 361.9L818.2 361.9L818.2 358.7L795.9 358.7L795.9 355.5L783.1 355.5L783.1 352.4L770.4 352.4L770.4 355.5L764.0 355.5L764.0 358.7L760.8 358.7L760.8 365.1L757.6 365.1L757.6 368.3L754.4 368.3L754.4 371.5L751.3 371.5L751.3 374.7L744.9 374.7L744.9 377.8L741.7 377.8L741.7 381.0L738.5 381.0L738.5 384.2L732.2 384.2L732.2 387.4L729.0 387.4L729.0 390.6L722.6 390.6L722.6 393.8L716.2 393.8L716.2 396.9L709.9 396.9L709.9 400.1L706.7 400.1L706.7 403.3L700.3 403.3L700.3 406.5L697.1 406.5L697.1 409.7Z" fill="#3A5FCD" fill-rule="evenodd"/>
<path d="M713.0 409.7L706.7 409.7L706.7 412.9L700.3 412.9L700.3 416.0L697.1 416.0L697.1 419.2L693.9 419.2L693.9 425.6L690.7 425.6L690.7 435.2L687.6 435.2L687.6 438.3L690.7 438.3L690.7 444.7L693.9 444.7L693.9 447.9L713.0 447.9L713.0 444.7L722.6 444.7L722.6 441.5L725.8 441.5L725.8 438.3L732.2 438.3L732.2 435.2L738.5 435.2L738.5 432.0L741.7 432.0L741.7 428.8L744.9 428.8L744.9 425.6L751.3 425.6L751.3 422.4L757.6 422.4L757.6 419.2L773.6 419.2L773.6 416.0L786.3 416.0L786.3 412.9L792.7 412.9L792.7 409.7L799.0 409.7L799.0 406.5L802.2 406.5L802.2 400.1L805.4 400.1L805.4 396.9L808.6 396.9L808.6 390.6L811.8 390.6L811.8 371.5L808.6 371.5L808.6 368.3L799.0 368.3L799.0 365.1L773.6 365.1L773.6 368.3L767.2 368.3L767.2 371.5L764.0 371.5L764.0 374.7L760.8 374.7L760.8 377.8L757.6 377.8L757.6 381.0L754.4 381.0L754.4 384.2L748.1 384.2L748.1 387.4L744.9 387.4L744.9 390.6L738.5 390.6L738.5 393.8L735.3 393.8L735.3 396.9L729.0 396.9L729.0 400.1L722.6 400.1L722.6 403.3L716.2 403.3L716.2 406.5L713.0 406.5Z" fill="#00008B" fill-rule="evenodd"/>
<defs><path id="s13" d="M887.9 403.4C888.6 405.7 886.6 413.6 884.8 418.7C883.0 423.8 879.5 428.4 877.2 434.0C874.9 439.6 873.1 445.7 871.1 452.4C869.0 459.0 867.0 466.6 864.9 473.8C862.9 480.9 860.9 488.5 858.8 495.2C856.8 501.8 855.8 507.9 852.7 513.5C849.6 519.1 845.6 524.2 840.5 528.8C835.4 533.4 828.2 538.3 822.1 541.1C816.0 543.9 808.9 545.6 803.8 545.6C798.7 545.6 794.6 544.4 791.5 541.1C788.5 537.7 786.9 531.4 785.4 525.8C783.9 520.2 782.9 513.0 782.4 507.4C781.8 501.8 780.8 497.7 782.4 492.1C783.9 486.5 787.5 479.9 791.5 473.8C795.6 467.6 801.7 461.8 806.8 455.4C811.9 449.0 816.5 441.1 822.1 435.5C827.7 429.9 833.8 425.6 840.5 421.8C847.1 417.9 855.3 415.4 861.9 412.6C868.5 409.8 875.9 406.5 880.2 404.9C884.6 403.4 887.1 401.1 887.9 403.4Z"/></defs>
<use href="#s13" fill="#FFA500" stroke="#FFEC8B" stroke-width="4.4" stroke-linejoin="round"/>
<use href="#s13" fill="#FFA500"/>
<path d="M783.1 514.8L786.3 514.8L786.3 530.7L789.5 530.7L789.5 537.0L792.7 537.0L792.7 540.2L795.9 540.2L795.9 543.4L815.0 543.4L815.0 540.2L824.5 540.2L824.5 537.0L827.7 537.0L827.7 533.9L834.1 533.9L834.1 530.7L837.3 530.7L837.3 527.5L840.5 527.5L840.5 524.3L843.6 524.3L843.6 521.1L846.8 521.1L846.8 517.9L850.0 517.9L850.0 511.6L853.2 511.6L853.2 505.2L856.4 505.2L856.4 492.5L859.6 492.5L859.6 482.9L862.8 482.9L862.8 470.2L865.9 470.2L865.9 457.4L869.1 457.4L869.1 447.9L872.3 447.9L872.3 438.3L875.5 438.3L875.5 432.0L878.7 432.0L878.7 425.6L881.9 425.6L881.9 419.2L885.1 419.2L885.1 406.5L875.5 406.5L875.5 409.7L869.1 409.7L869.1 412.9L862.8 412.9L862.8 416.0L853.2 416.0L853.2 419.2L846.8 419.2L846.8 422.4L840.5 422.4L840.5 425.6L834.1 425.6L834.1 428.8L830.9 428.8L830.9 432.0L827.7 432.0L827.7 435.2L824.5 435.2L824.5 438.3L821.3 438.3L821.3 441.5L818.2 441.5L818.2 444.7L815.0 444.7L815.0 447.9L811.8 447.9L811.8 454.3L808.6 454.3L808.6 457.4L805.4 457.4L805.4 460.6L802.2 460.6L802.2 463.8L799.0 463.8L799.0 467.0L795.9 467.0L795.9 473.4L792.7 473.4L792.7 476.5L789.5 476.5L789.5 482.9L786.3 482.9L786.3 489.3L783.1 489.3Z" fill="#FF4500" fill-rule="evenodd"/>
<path d="M827.7 492.5L824.5 492.5L824.5 498.8L821.3 498.8L821.3 502.0L815.0 502.0L815.0 505.2L811.8 505.2L811.8 514.8L821.3 514.8L821.3 511.6L824.5 511.6L824.5 508.4L827.7 508.4L827.7 502.0L834.1 502.0L834.1 498.8L840.5 498.8L840.5 495.7L843.6 495.7L843.6 492.5L846.8 492.5L846.8 489.3L850.0 489.3L850.0 486.1L853.2 486.1L853.2 473.4L856.4 473.4L856.4 460.6L859.6 460.6L859.6 451.1L862.8 451.1L862.8 438.3L865.9 438.3L865.9 435.2L862.8 435.2L862.8 428.8L859.6 428.8L859.6 425.6L837.3 425.6L837.3 428.8L830.9 428.8L830.9 432.0L827.7 432.0Z" fill="#B22222" fill-rule="evenodd"/>
<path d="M843.6 438.3L840.5 438.3L840.5 447.9L843.6 447.9Z" fill="#FF82AB" fill-rule="evenodd"/>
<defs><path id="s14" d="M922.4 410.1C922.7 408.0 925.3 404.8 927.6 403.4C930.0 402.0 934.0 401.6 936.8 401.9C939.6 402.1 943.7 402.9 944.5 404.9C945.2 407.0 943.2 411.8 941.4 414.1C939.6 416.4 936.3 418.3 933.8 418.7C931.2 419.1 928.0 417.7 926.1 416.3C924.2 414.8 922.2 412.3 922.4 410.1Z"/></defs>
<use href="#s14" fill="#FFA500" stroke="#FFEC8B" stroke-width="4.4" stroke-linejoin="round"/>
<use href="#s14" fill="#FFA500"/>
<path d="M929.7 403.3L929.7 406.5L926.5 406.5L926.5 409.7L923.3 409.7L923.3 412.9L926.5 412.9L926.5 416.0L939.2 416.0L939.2 412.9L942.4 412.9L942.4 403.3Z" fill="#FF4500" fill-rule="evenodd"/>
<defs><path id="s15" d="M908.5 594.2C908.3 592.5 908.5 589.6 910.1 587.3C911.7 585.0 915.3 582.1 918.2 580.4C921.0 578.7 925.4 579.3 927.3 577.0C929.2 574.7 928.1 569.0 929.6 566.7C931.2 564.4 934.6 562.7 936.5 563.2C938.4 563.8 938.8 568.2 941.1 570.1C943.4 572.0 947.8 572.8 950.3 574.7C952.7 576.6 955.6 579.3 956.0 581.6C956.4 583.9 955.0 586.7 952.6 588.5C950.1 590.2 944.5 590.6 941.1 591.9C937.7 593.2 935.4 595.3 931.9 596.5C928.5 597.6 923.9 598.6 920.5 598.8C917.0 599.0 913.3 598.4 911.3 597.6C909.3 596.9 908.7 595.9 908.5 594.2Z"/></defs>
<use href="#s15" fill="#FFA500" stroke="#FFEC8B" stroke-width="4.4" stroke-linejoin="round"/>
<use href="#s15" fill="#FFA500"/>
<path d="M929.7 578.4L926.5 578.4L926.5 581.6L916.9 581.6L916.9 584.8L913.7 584.8L913.7 588.0L910.5 588.0L910.5 597.6L929.7 597.6L929.7 594.4L936.0 594.4L936.0 591.2L942.4 591.2L942.4 588.0L951.9 588.0L951.9 584.8L955.1 584.8L955.1 578.4L951.9 578.4L951.9 575.3L945.6 575.3L945.6 572.1L939.2 572.1L939.2 568.9L936.0 568.9L936.0 565.7L929.7 565.7Z" fill="#FF4500" fill-rule="evenodd"/>
<defs><path id="s16" d="M901.7 654.9C901.7 653.0 903.6 651.6 906.7 650.3C909.8 649.1 915.9 648.1 920.5 647.4C925.0 646.6 930.4 645.5 934.2 645.8C938.0 646.1 940.7 648.1 943.4 649.2C946.1 650.3 950.3 651.1 950.3 652.6C950.3 654.2 946.1 656.5 943.4 658.4C940.7 660.3 936.9 662.7 934.2 664.1C931.5 665.5 930.0 666.8 927.3 666.8C924.7 666.8 921.6 664.9 918.2 664.1C914.7 663.3 909.5 663.3 906.7 661.8C904.0 660.3 901.7 656.8 901.7 654.9Z"/></defs>
<use href="#s16" fill="#00BFFF" stroke="#B0E2FF" stroke-width="4.4" stroke-linejoin="round"/>
<use href="#s16" fill="#00BFFF"/>
<path d="M913.7 648.5L913.7 651.7L904.2 651.7L904.2 658.1L907.4 658.1L907.4 661.2L920.1 661.2L920.1 664.4L932.8 664.4L932.8 661.2L939.2 661.2L939.2 658.1L942.4 658.1L942.4 654.9L948.8 654.9L948.8 651.7L942.4 651.7L942.4 648.5Z" fill="#3A5FCD" fill-rule="evenodd"/>
<path d="M932.8 562.5L932.8 565.7L929.7 565.7L929.7 575.3L939.2 575.3L939.2 565.7L936.0 565.7L936.0 562.5Z" fill="#FFA500" fill-rule="evenodd"/>
<defs><path id="s17" d="M611.1 25.0C586.9 30.0 607.4 46.1 606.1 54.8C604.9 63.5 603.0 70.6 603.7 77.2C604.3 83.8 606.8 89.6 609.9 94.6C613.0 99.5 617.3 103.1 622.3 107.0C627.3 110.9 634.7 115.1 639.7 118.2C644.6 121.3 648.0 124.4 652.1 125.6C656.2 126.9 661.2 127.1 664.5 125.6C667.8 124.2 670.5 120.9 672.0 116.9C673.4 113.0 672.4 107.0 673.2 102.0C674.0 97.1 674.2 91.7 676.9 87.1C679.6 82.6 686.0 79.3 689.3 74.7C692.7 70.2 694.9 63.5 696.8 59.8C698.7 56.1 697.6 54.2 700.5 52.4C703.4 50.5 708.2 50.3 714.2 48.6C720.2 47.0 730.7 44.4 736.5 42.4C742.3 40.5 746.5 39.9 749.0 37.0C751.4 34.1 774.4 27.0 751.4 25.0C728.5 23.0 635.3 20.1 611.1 25.0Z"/></defs>
<use href="#s17" fill="#00BFFF" stroke="#B0E2FF" stroke-width="4.4" stroke-linejoin="round"/>
<use href="#s17" fill="#00BFFF"/>
<path d="M604.7 69.0L690.7 69.0L690.7 65.8L693.9 65.8L693.9 59.4L697.1 59.4L697.1 53.0L700.3 53.0L700.3 49.9L709.9 49.9L709.9 46.7L722.6 46.7L722.6 43.5L732.2 43.5L732.2 40.3L741.7 40.3L741.7 37.1L748.1 37.1L748.1 33.9L754.4 33.9L754.4 30.8L757.6 30.8L757.6 27.6L604.7 27.6L604.7 30.8L601.5 30.8L601.5 43.5L604.7 43.5L604.7 49.9L607.9 49.9L607.9 62.6L604.7 62.6ZM604.7 69.0L604.7 75.3L687.6 75.3L687.6 72.1L690.7 72.1L690.7 69.0ZM604.7 75.3L604.7 78.5L684.4 78.5L684.4 75.3ZM607.9 81.7L607.9 84.9L678.0 84.9L678.0 81.7L681.2 81.7L681.2 78.5L604.7 78.5L604.7 81.7ZM674.8 91.3L674.8 84.9L607.9 84.9L607.9 91.3ZM611.1 91.3L611.1 94.4L671.6 94.4L671.6 91.3ZM614.3 100.8L617.5 100.8L617.5 104.0L671.6 104.0L671.6 94.4L614.3 94.4ZM627.0 110.4L633.4 110.4L633.4 113.5L671.6 113.5L671.6 104.0L623.8 104.0L623.8 107.2L627.0 107.2ZM614.3 24.4L614.3 27.6L741.7 27.6L741.7 24.4ZM636.6 113.5L636.6 116.7L671.6 116.7L671.6 113.5ZM668.4 123.1L668.4 116.7L643.0 116.7L643.0 119.9L646.1 119.9L646.1 123.1ZM655.7 123.1L655.7 126.3L662.1 126.3L662.1 123.1Z" fill="#3A5FCD" fill-rule="evenodd"/>
<path d="M620.7 65.8L617.5 65.8L617.5 69.0L678.0 69.0L678.0 65.8L681.2 65.8L681.2 56.2L684.4 56.2L684.4 43.5L687.6 43.5L687.6 37.1L690.7 37.1L690.7 33.9L693.9 33.9L693.9 27.6L617.5 27.6L617.5 37.1L620.7 37.1ZM617.5 75.3L671.6 75.3L671.6 72.1L674.8 72.1L674.8 69.0L617.5 69.0ZM620.7 75.3L620.7 78.5L668.4 78.5L668.4 75.3ZM620.7 81.7L627.0 81.7L627.0 84.9L655.7 84.9L655.7 81.7L662.1 81.7L662.1 78.5L620.7 78.5ZM655.7 91.3L655.7 84.9L630.2 84.9L630.2 88.1L633.4 88.1L633.4 91.3ZM633.4 91.3L633.4 94.4L655.7 94.4L655.7 91.3ZM636.6 94.4L636.6 97.6L639.8 97.6L639.8 100.8L652.5 100.8L652.5 94.4ZM620.7 27.6L690.7 27.6L690.7 24.4L671.6 24.4L671.6 21.2L636.6 21.2L636.6 24.4L620.7 24.4Z" fill="#00008B" fill-rule="evenodd"/>
<defs><path id="s18" d="M714.2 88.4C714.2 84.2 716.7 82.2 719.2 79.7C721.6 77.2 724.9 75.3 729.1 73.5C733.2 71.6 739.0 69.9 744.0 68.5C749.0 67.0 753.5 65.5 758.9 64.8C764.3 64.1 770.5 64.3 776.3 64.3C782.1 64.3 787.5 63.9 793.7 64.8C799.9 65.7 808.5 68.8 813.5 69.7C818.5 70.6 818.8 70.3 823.7 70.2C828.5 70.1 834.7 69.2 842.6 69.0C850.5 68.8 862.3 68.8 871.0 69.0C879.7 69.2 887.5 70.6 894.6 70.2C901.7 69.8 907.3 67.5 913.6 66.7C919.9 65.9 926.2 65.7 932.5 65.5C938.8 65.3 945.3 65.7 951.4 65.5C957.5 65.3 962.9 64.6 969.2 64.3C975.5 64.0 982.0 63.7 989.3 63.6C996.6 63.5 1009.0 54.0 1012.9 63.6C1016.9 73.2 1016.9 111.5 1012.9 121.1C1009.0 130.7 996.6 121.1 989.3 121.1C982.0 121.1 975.5 121.1 969.2 121.1C962.9 121.1 956.0 121.9 951.4 121.1C946.9 120.3 946.7 117.3 942.0 116.4C937.2 115.4 929.3 115.2 923.0 115.2C916.7 115.2 910.4 116.4 904.1 116.4C897.8 116.4 890.7 116.0 885.2 115.2C879.7 114.4 875.7 113.2 871.0 111.6C866.2 110.1 861.9 106.9 856.8 105.7C851.7 104.5 845.7 103.9 840.2 104.5C834.7 105.1 830.4 108.1 823.7 109.3C817.0 110.4 805.0 110.3 800.0 111.6C795.0 112.9 797.2 114.0 793.7 116.9C790.1 119.9 783.7 126.4 778.8 129.3C773.8 132.2 768.8 133.9 763.9 134.3C758.9 134.7 754.7 134.7 749.0 131.8C743.2 128.9 734.1 121.5 729.1 116.9C724.1 112.4 721.6 109.3 719.2 104.5C716.7 99.7 714.2 92.5 714.2 88.4Z"/></defs>
<use href="#s18" fill="#FFA500" stroke="#FFEC8B" stroke-width="4.4" stroke-linejoin="round"/>
<use href="#s18" fill="#FFA500"/>
<path d="M754.4 65.8L754.4 69.0L799.0 69.0L799.0 65.8ZM741.7 69.0L741.7 72.1L732.2 72.1L732.2 75.3L1012.5 75.3L1012.5 69.0L904.2 69.0L904.2 72.1L872.3 72.1L872.3 69.0L843.6 69.0L843.6 72.1L811.8 72.1L811.8 69.0ZM719.4 81.7L716.2 81.7L716.2 84.9L1015.7 84.9L1015.7 81.7L1012.5 81.7L1012.5 78.5L719.4 78.5ZM1015.7 84.9L716.2 84.9L716.2 91.3L1015.7 91.3ZM722.6 104.0L722.6 110.4L725.8 110.4L725.8 113.5L795.9 113.5L795.9 110.4L811.8 110.4L811.8 107.2L830.9 107.2L830.9 104.0ZM729.0 113.5L729.0 116.7L792.7 116.7L792.7 113.5ZM786.3 123.1L786.3 119.9L789.5 119.9L789.5 116.7L732.2 116.7L732.2 119.9L735.3 119.9L735.3 123.1ZM741.7 123.1L741.7 126.3L783.1 126.3L783.1 123.1ZM751.3 129.5L751.3 132.6L770.4 132.6L770.4 129.5L776.7 129.5L776.7 126.3L744.9 126.3L744.9 129.5ZM993.4 65.8L923.3 65.8L923.3 69.0L1012.5 69.0L1012.5 62.6L1009.3 62.6L1009.3 59.4L1006.1 59.4L1006.1 62.6L993.4 62.6ZM725.8 75.3L725.8 78.5L1012.5 78.5L1012.5 75.3ZM716.2 91.3L716.2 94.4L1015.7 94.4L1015.7 91.3ZM716.2 94.4L716.2 97.6L719.4 97.6L719.4 104.0L1015.7 104.0L1015.7 94.4ZM869.1 110.4L875.5 110.4L875.5 113.5L1012.5 113.5L1012.5 104.0L862.8 104.0L862.8 107.2L869.1 107.2ZM942.4 113.5L942.4 116.7L1012.5 116.7L1012.5 113.5ZM996.5 119.9L996.5 123.1L1009.3 123.1L1009.3 119.9L1012.5 119.9L1012.5 116.7L948.8 116.7L948.8 119.9Z" fill="#FF4500" fill-rule="evenodd"/>
<path d="M738.5 72.1L738.5 75.3L815.0 75.3L815.0 72.1L805.4 72.1L805.4 69.0L748.1 69.0L748.1 72.1ZM732.2 75.3L732.2 78.5L827.7 78.5L827.7 75.3ZM722.6 81.7L722.6 84.9L872.3 84.9L872.3 81.7L850.0 81.7L850.0 78.5L725.8 78.5L725.8 81.7ZM719.4 100.8L722.6 100.8L722.6 104.0L799.0 104.0L799.0 100.8L821.3 100.8L821.3 97.6L862.8 97.6L862.8 100.8L869.1 100.8L869.1 104.0L964.7 104.0L964.7 100.8L993.4 100.8L993.4 104.0L1012.5 104.0L1012.5 100.8L1015.7 100.8L1015.7 94.4L716.2 94.4L716.2 97.6L719.4 97.6ZM729.0 107.2L729.0 110.4L735.3 110.4L735.3 113.5L792.7 113.5L792.7 110.4L795.9 110.4L795.9 107.2L799.0 107.2L799.0 104.0L725.8 104.0L725.8 107.2ZM738.5 113.5L738.5 116.7L786.3 116.7L786.3 113.5ZM744.9 119.9L744.9 123.1L776.7 123.1L776.7 119.9L783.1 119.9L783.1 116.7L741.7 116.7L741.7 119.9ZM770.4 123.1L751.3 123.1L751.3 126.3L770.4 126.3ZM916.9 75.3L1015.7 75.3L1015.7 72.1L1012.5 72.1L1012.5 69.0L942.4 69.0L942.4 72.1L916.9 72.1ZM907.4 75.3L907.4 78.5L1015.7 78.5L1015.7 75.3ZM1015.7 84.9L1015.7 78.5L901.0 78.5L901.0 81.7L881.9 81.7L881.9 84.9ZM719.4 84.9L719.4 88.1L716.2 88.1L716.2 91.3L1015.7 91.3L1015.7 84.9ZM716.2 91.3L716.2 94.4L1015.7 94.4L1015.7 91.3ZM878.7 104.0L878.7 107.2L948.8 107.2L948.8 104.0Z" fill="#B22222" fill-rule="evenodd"/>
<path d="M722.6 94.4L722.6 97.6L725.8 97.6L725.8 100.8L729.0 100.8L729.0 104.0L779.9 104.0L779.9 100.8L783.1 100.8L783.1 97.6L789.5 97.6L789.5 94.4ZM732.2 104.0L732.2 107.2L735.3 107.2L735.3 110.4L741.7 110.4L741.7 113.5L770.4 113.5L770.4 107.2L776.7 107.2L776.7 104.0ZM764.0 116.7L764.0 113.5L751.3 113.5L751.3 116.7ZM783.1 75.3L748.1 75.3L748.1 78.5L783.1 78.5ZM738.5 78.5L738.5 81.7L732.2 81.7L732.2 84.9L805.4 84.9L805.4 81.7L795.9 81.7L795.9 78.5ZM725.8 91.3L808.6 91.3L808.6 88.1L811.8 88.1L811.8 84.9L729.0 84.9L729.0 88.1L725.8 88.1ZM799.0 91.3L722.6 91.3L722.6 94.4L799.0 94.4Z" fill="#FF82AB" fill-rule="evenodd"/>
<path d="M996.5 78.5L1012.5 78.5L1012.5 75.3L996.5 75.3ZM945.6 81.7L939.2 81.7L939.2 84.9L1015.7 84.9L1015.7 78.5L945.6 78.5ZM936.0 84.9L936.0 88.1L939.2 88.1L939.2 91.3L1012.5 91.3L1012.5 88.1L1015.7 88.1L1015.7 84.9Z" fill="#FF82AB" fill-rule="evenodd"/>
<defs><path id="s19" d="M635.5 273.0C634.9 269.9 636.9 266.4 640.6 261.0C644.4 255.5 652.1 247.2 657.8 240.3C663.6 233.5 668.7 227.2 675.0 219.7C681.3 212.3 688.8 201.1 695.6 195.6C702.5 190.2 708.8 189.1 716.3 187.0C723.7 185.0 731.7 184.6 740.3 183.6C748.9 182.6 758.1 182.6 767.9 181.2C777.6 179.8 789.1 176.6 798.8 175.0C808.5 173.4 818.3 173.3 826.3 171.6C834.3 169.9 840.1 167.3 846.9 164.7C853.8 162.1 860.7 158.4 867.6 156.1C874.4 153.8 881.3 152.5 888.2 150.9C895.1 149.4 902.5 147.9 908.8 146.8C915.1 145.8 919.7 144.9 926.0 144.8C932.3 144.6 939.5 146.2 946.6 145.8C953.8 145.4 962.7 143.1 969.0 142.3C975.3 141.6 982.8 115.4 984.5 141.3C986.1 167.2 982.6 271.6 978.9 297.9C975.1 324.1 966.9 298.4 962.0 298.9C957.1 299.5 953.3 300.2 949.4 301.0C945.6 301.9 943.1 304.5 938.9 304.2C934.7 303.8 929.4 299.6 924.2 298.9C918.9 298.2 912.9 299.3 907.3 300.0C901.7 300.7 896.4 301.9 890.5 303.1C884.5 304.4 877.5 306.6 871.5 307.3C865.6 308.0 860.0 306.6 854.7 307.3C849.4 308.0 845.2 310.2 840.0 311.6C834.7 313.0 828.4 314.9 823.1 315.8C817.9 316.6 812.6 318.2 808.4 316.8C804.2 315.4 801.7 309.5 797.9 307.3C794.0 305.2 789.8 306.1 785.3 304.2C780.7 302.3 774.7 298.2 770.5 295.8C766.3 293.3 763.3 292.4 760.0 289.5C756.7 286.5 755.1 281.2 750.7 278.2C746.2 275.1 739.8 272.7 733.5 271.3C727.2 269.9 720.3 269.6 712.8 269.6C705.4 269.6 696.8 269.9 688.8 271.3C680.7 272.7 672.1 276.7 664.7 278.2C657.2 279.6 648.9 280.7 644.1 279.9C639.2 279.0 636.0 276.2 635.5 273.0Z"/></defs>
<use href="#s19" fill="#00BFFF" stroke="#B0E2FF" stroke-width="4.4" stroke-linejoin="round"/>
<use href="#s19" fill="#00BFFF"/>
<path d="M668.4 228.2L668.4 231.4L665.3 231.4L665.3 234.5L662.1 234.5L662.1 240.9L658.9 240.9L658.9 244.1L655.7 244.1L655.7 247.3L652.5 247.3L652.5 250.5L649.3 250.5L649.3 253.7L646.1 253.7L646.1 256.8L643.0 256.8L643.0 263.2L639.8 263.2L639.8 266.4L636.6 266.4L636.6 275.9L643.0 275.9L643.0 279.1L658.9 279.1L658.9 275.9L671.6 275.9L671.6 272.8L684.4 272.8L684.4 269.6L738.5 269.6L738.5 272.8L748.1 272.8L748.1 275.9L751.3 275.9L751.3 279.1L754.4 279.1L754.4 282.3L757.6 282.3L757.6 285.5L760.8 285.5L760.8 288.7L764.0 288.7L764.0 291.9L770.4 291.9L770.4 295.0L773.6 295.0L773.6 298.2L779.9 298.2L779.9 301.4L786.3 301.4L786.3 304.6L799.0 304.6L799.0 307.8L802.2 307.8L802.2 311.0L805.4 311.0L805.4 314.2L811.8 314.2L811.8 317.3L815.0 317.3L815.0 314.2L830.9 314.2L830.9 311.0L843.6 311.0L843.6 307.8L853.2 307.8L853.2 304.6L885.1 304.6L885.1 301.4L897.8 301.4L897.8 298.2L932.8 298.2L932.8 301.4L948.8 301.4L948.8 298.2L964.7 298.2L964.7 301.4L967.9 301.4L967.9 304.6L971.1 304.6L971.1 307.8L974.2 307.8L974.2 304.6L977.4 304.6L977.4 282.3L980.6 282.3L980.6 218.6L983.8 218.6L983.8 135.8L980.6 135.8L980.6 132.6L977.4 132.6L977.4 139.0L974.2 139.0L974.2 142.2L967.9 142.2L967.9 145.4L948.8 145.4L948.8 148.6L936.0 148.6L936.0 145.4L916.9 145.4L916.9 148.6L897.8 148.6L897.8 151.8L885.1 151.8L885.1 154.9L872.3 154.9L872.3 158.1L862.8 158.1L862.8 161.3L856.4 161.3L856.4 164.5L846.8 164.5L846.8 167.7L840.5 167.7L840.5 170.9L827.7 170.9L827.7 174.0L805.4 174.0L805.4 177.2L786.3 177.2L786.3 180.4L773.6 180.4L773.6 183.6L738.5 183.6L738.5 186.8L716.2 186.8L716.2 190.0L706.7 190.0L706.7 193.2L700.3 193.2L700.3 196.3L693.9 196.3L693.9 199.5L690.7 199.5L690.7 205.9L687.6 205.9L687.6 209.1L684.4 209.1L684.4 212.3L681.2 212.3L681.2 215.4L678.0 215.4L678.0 221.8L674.8 221.8L674.8 225.0L671.6 225.0L671.6 228.2Z" fill="#3A5FCD" fill-rule="evenodd"/>
<path d="M687.6 215.4L684.4 215.4L684.4 221.8L681.2 221.8L681.2 225.0L678.0 225.0L678.0 228.2L674.8 228.2L674.8 231.4L671.6 231.4L671.6 237.7L668.4 237.7L668.4 240.9L665.3 240.9L665.3 244.1L662.1 244.1L662.1 250.5L658.9 250.5L658.9 253.7L655.7 253.7L655.7 256.8L652.5 256.8L652.5 260.0L649.3 260.0L649.3 266.4L652.5 266.4L652.5 269.6L678.0 269.6L678.0 266.4L693.9 266.4L693.9 263.2L764.0 263.2L764.0 266.4L827.7 266.4L827.7 269.6L830.9 269.6L830.9 272.8L821.3 272.8L821.3 275.9L808.6 275.9L808.6 279.1L802.2 279.1L802.2 282.3L799.0 282.3L799.0 285.5L805.4 285.5L805.4 288.7L821.3 288.7L821.3 291.9L827.7 291.9L827.7 301.4L840.5 301.4L840.5 304.6L846.8 304.6L846.8 301.4L865.9 301.4L865.9 298.2L872.3 298.2L872.3 295.0L885.1 295.0L885.1 291.9L942.4 291.9L942.4 295.0L951.9 295.0L951.9 298.2L974.2 298.2L974.2 295.0L977.4 295.0L977.4 288.7L980.6 288.7L980.6 266.4L983.8 266.4L983.8 142.2L977.4 142.2L977.4 145.4L974.2 145.4L974.2 148.6L945.6 148.6L945.6 151.8L907.4 151.8L907.4 154.9L894.6 154.9L894.6 158.1L878.7 158.1L878.7 161.3L869.1 161.3L869.1 164.5L859.6 164.5L859.6 167.7L853.2 167.7L853.2 170.9L843.6 170.9L843.6 174.0L834.1 174.0L834.1 177.2L821.3 177.2L821.3 180.4L799.0 180.4L799.0 183.6L779.9 183.6L779.9 186.8L757.6 186.8L757.6 190.0L732.2 190.0L732.2 193.2L716.2 193.2L716.2 196.3L706.7 196.3L706.7 199.5L703.5 199.5L703.5 202.7L697.1 202.7L697.1 205.9L693.9 205.9L693.9 209.1L690.7 209.1L690.7 212.3L687.6 212.3Z" fill="#00008B" fill-rule="evenodd"/>
<path d="M773.6 272.8L767.2 272.8L767.2 275.9L764.0 275.9L764.0 279.1L767.2 279.1L767.2 282.3L770.4 282.3L770.4 279.1L776.7 279.1L776.7 275.9L773.6 275.9Z" fill="#00008B" fill-rule="evenodd"/>
<path d="M716.2 205.9L713.0 205.9L713.0 209.1L709.9 209.1L709.9 212.3L703.5 212.3L703.5 215.4L700.3 215.4L700.3 221.8L697.1 221.8L697.1 225.0L693.9 225.0L693.9 228.2L690.7 228.2L690.7 234.5L687.6 234.5L687.6 237.7L684.4 237.7L684.4 240.9L681.2 240.9L681.2 247.3L690.7 247.3L690.7 250.5L748.1 250.5L748.1 247.3L764.0 247.3L764.0 244.1L779.9 244.1L779.9 240.9L795.9 240.9L795.9 244.1L821.3 244.1L821.3 240.9L830.9 240.9L830.9 237.7L840.5 237.7L840.5 234.5L846.8 234.5L846.8 231.4L856.4 231.4L856.4 228.2L875.5 228.2L875.5 225.0L885.1 225.0L885.1 221.8L894.6 221.8L894.6 218.6L901.0 218.6L901.0 215.4L910.5 215.4L910.5 212.3L916.9 212.3L916.9 209.1L923.3 209.1L923.3 205.9L929.7 205.9L929.7 202.7L936.0 202.7L936.0 199.5L942.4 199.5L942.4 196.3L945.6 196.3L945.6 193.2L951.9 193.2L951.9 190.0L955.1 190.0L955.1 183.6L951.9 183.6L951.9 180.4L948.8 180.4L948.8 177.2L945.6 177.2L945.6 174.0L942.4 174.0L942.4 170.9L939.2 170.9L939.2 167.7L936.0 167.7L936.0 164.5L932.8 164.5L932.8 161.3L926.5 161.3L926.5 158.1L916.9 158.1L916.9 154.9L901.0 154.9L901.0 158.1L891.4 158.1L891.4 161.3L881.9 161.3L881.9 164.5L872.3 164.5L872.3 167.7L865.9 167.7L865.9 170.9L856.4 170.9L856.4 174.0L850.0 174.0L850.0 177.2L840.5 177.2L840.5 180.4L824.5 180.4L824.5 183.6L808.6 183.6L808.6 186.8L792.7 186.8L792.7 190.0L776.7 190.0L776.7 193.2L748.1 193.2L748.1 196.3L732.2 196.3L732.2 199.5L722.6 199.5L722.6 202.7L716.2 202.7Z" fill="#9932CC" fill-rule="evenodd"/>
<path d="M897.8 263.2L891.4 263.2L891.4 266.4L888.2 266.4L888.2 269.6L885.1 269.6L885.1 272.8L881.9 272.8L881.9 279.1L885.1 279.1L885.1 282.3L888.2 282.3L888.2 285.5L942.4 285.5L942.4 282.3L961.5 282.3L961.5 285.5L974.2 285.5L974.2 282.3L980.6 282.3L980.6 244.1L977.4 244.1L977.4 240.9L948.8 240.9L948.8 244.1L939.2 244.1L939.2 247.3L932.8 247.3L932.8 250.5L923.3 250.5L923.3 253.7L916.9 253.7L916.9 256.8L907.4 256.8L907.4 260.0L897.8 260.0Z" fill="#9932CC" fill-rule="evenodd"/>
<path d="M831.6 254.2C831.6 251.4 833.8 246.8 836.8 243.6C839.8 240.5 844.2 237.5 849.5 235.2C854.7 232.9 861.7 231.4 868.4 230.0C875.1 228.6 883.1 228.4 889.4 226.8C895.8 225.2 900.7 222.8 906.3 220.5C911.9 218.2 917.5 215.6 923.1 213.1C928.7 210.7 934.3 207.7 939.9 205.8C945.6 203.8 951.9 202.6 956.8 201.6C961.7 200.5 965.2 200.1 969.4 199.5C973.6 198.8 979.9 191.8 982.0 197.8C984.1 203.7 984.1 229.2 982.0 235.2C979.9 241.3 972.6 234.4 969.4 234.2C966.3 234.0 965.6 234.7 963.1 234.2C960.6 233.7 958.5 231.5 954.7 231.0C950.8 230.5 944.5 230.7 939.9 231.0C935.4 231.4 931.5 231.4 927.3 233.1C923.1 234.9 919.6 239.4 914.7 241.5C909.8 243.6 903.5 244.7 897.9 245.8C892.2 246.8 886.6 246.8 881.0 247.9C875.4 248.9 869.4 250.0 864.2 252.1C858.9 254.2 854.0 259.1 849.5 260.5C844.9 261.9 839.8 261.5 836.8 260.5C833.8 259.4 831.6 257.0 831.6 254.2Z" fill="#3A5FCD" stroke="#3A5FCD" stroke-width="11" stroke-linejoin="round"/>
<path d="M831.6 254.2C831.6 251.4 833.8 246.8 836.8 243.6C839.8 240.5 844.2 237.5 849.5 235.2C854.7 232.9 861.7 231.4 868.4 230.0C875.1 228.6 883.1 228.4 889.4 226.8C895.8 225.2 900.7 222.8 906.3 220.5C911.9 218.2 917.5 215.6 923.1 213.1C928.7 210.7 934.3 207.7 939.9 205.8C945.6 203.8 951.9 202.6 956.8 201.6C961.7 200.5 965.2 200.1 969.4 199.5C973.6 198.8 979.9 191.8 982.0 197.8C984.1 203.7 984.1 229.2 982.0 235.2C979.9 241.3 972.6 234.4 969.4 234.2C966.3 234.0 965.6 234.7 963.1 234.2C960.6 233.7 958.5 231.5 954.7 231.0C950.8 230.5 944.5 230.7 939.9 231.0C935.4 231.4 931.5 231.4 927.3 233.1C923.1 234.9 919.6 239.4 914.7 241.5C909.8 243.6 903.5 244.7 897.9 245.8C892.2 246.8 886.6 246.8 881.0 247.9C875.4 248.9 869.4 250.0 864.2 252.1C858.9 254.2 854.0 259.1 849.5 260.5C844.9 261.9 839.8 261.5 836.8 260.5C833.8 259.4 831.6 257.0 831.6 254.2Z" fill="#fff" stroke="#00BFFF" stroke-width="4.6" stroke-linejoin="round"/>
<path d="M831.6 254.2C831.6 251.4 833.8 246.8 836.8 243.6C839.8 240.5 844.2 237.5 849.5 235.2C854.7 232.9 861.7 231.4 868.4 230.0C875.1 228.6 883.1 228.4 889.4 226.8C895.8 225.2 900.7 222.8 906.3 220.5C911.9 218.2 917.5 215.6 923.1 213.1C928.7 210.7 934.3 207.7 939.9 205.8C945.6 203.8 951.9 202.6 956.8 201.6C961.7 200.5 965.2 200.1 969.4 199.5C973.6 198.8 979.9 191.8 982.0 197.8C984.1 203.7 984.1 229.2 982.0 235.2C979.9 241.3 972.6 234.4 969.4 234.2C966.3 234.0 965.6 234.7 963.1 234.2C960.6 233.7 958.5 231.5 954.7 231.0C950.8 230.5 944.5 230.7 939.9 231.0C935.4 231.4 931.5 231.4 927.3 233.1C923.1 234.9 919.6 239.4 914.7 241.5C909.8 243.6 903.5 244.7 897.9 245.8C892.2 246.8 886.6 246.8 881.0 247.9C875.4 248.9 869.4 250.0 864.2 252.1C858.9 254.2 854.0 259.1 849.5 260.5C844.9 261.9 839.8 261.5 836.8 260.5C833.8 259.4 831.6 257.0 831.6 254.2Z" fill="#fff" stroke="#B0E2FF" stroke-width="2.4" stroke-linejoin="round"/>
<path d="M831.6 254.2C831.6 251.4 833.8 246.8 836.8 243.6C839.8 240.5 844.2 237.5 849.5 235.2C854.7 232.9 861.7 231.4 868.4 230.0C875.1 228.6 883.1 228.4 889.4 226.8C895.8 225.2 900.7 222.8 906.3 220.5C911.9 218.2 917.5 215.6 923.1 213.1C928.7 210.7 934.3 207.7 939.9 205.8C945.6 203.8 951.9 202.6 956.8 201.6C961.7 200.5 965.2 200.1 969.4 199.5C973.6 198.8 979.9 191.8 982.0 197.8C984.1 203.7 984.1 229.2 982.0 235.2C979.9 241.3 972.6 234.4 969.4 234.2C966.3 234.0 965.6 234.7 963.1 234.2C960.6 233.7 958.5 231.5 954.7 231.0C950.8 230.5 944.5 230.7 939.9 231.0C935.4 231.4 931.5 231.4 927.3 233.1C923.1 234.9 919.6 239.4 914.7 241.5C909.8 243.6 903.5 244.7 897.9 245.8C892.2 246.8 886.6 246.8 881.0 247.9C875.4 248.9 869.4 250.0 864.2 252.1C858.9 254.2 854.0 259.1 849.5 260.5C844.9 261.9 839.8 261.5 836.8 260.5C833.8 259.4 831.6 257.0 831.6 254.2Z" fill="#fff"/>
<path d="M357.1 93.0L360.9 90.9L366.1 92.0L367.2 94.1L363.0 96.2L358.8 95.1Z" fill="#00BFFF" stroke="#B0E2FF" stroke-width="1.2"/>
<path d="M77.5 89.1L83.7 93.3L77.5 97.6Z" fill="#B0E2FF" stroke="#B0E2FF" stroke-width="1.2"/>
<path d="M594.5 487.4L600.8 485.4L603.1 489.7L599.4 493.2Z" fill="#B0E2FF" stroke="#B0E2FF" stroke-width="1.2"/>
<path d="M794.4 646.9L797.8 644.6L801.7 646.9L797.8 649.7Z" fill="#00BFFF" stroke="#B0E2FF" stroke-width="1.2"/>
<path d="M764.2 330.9L773.0 327.3L772.2 330.5L766.3 333.9Z" fill="#B0E2FF" stroke="#B0E2FF" stroke-width="1.2"/>
<g fill="none" stroke="#000" stroke-width="0.7"><use href="#s0"/><use href="#s1"/><use href="#s2"/><use href="#s3"/><use href="#s4"/><use href="#s5"/><use href="#s6"/><use href="#s7"/><use href="#s8"/><use href="#s9"/><use href="#s10"/><use href="#s11"/><use href="#s12"/><use href="#s13"/><use href="#s14"/><use href="#s15"/><use href="#s16"/><use href="#s17"/><use href="#s18"/><use href="#s19"/><path d="M831.6 254.2C831.6 251.4 833.8 246.8 836.8 243.6C839.8 240.5 844.2 237.5 849.5 235.2C854.7 232.9 861.7 231.4 868.4 230.0C875.1 228.6 883.1 228.4 889.4 226.8C895.8 225.2 900.7 222.8 906.3 220.5C911.9 218.2 917.5 215.6 923.1 213.1C928.7 210.7 934.3 207.7 939.9 205.8C945.6 203.8 951.9 202.6 956.8 201.6C961.7 200.5 965.2 200.1 969.4 199.5C973.6 198.8 979.9 191.8 982.0 197.8C984.1 203.7 984.1 229.2 982.0 235.2C979.9 241.3 972.6 234.4 969.4 234.2C966.3 234.0 965.6 234.7 963.1 234.2C960.6 233.7 958.5 231.5 954.7 231.0C950.8 230.5 944.5 230.7 939.9 231.0C935.4 231.4 931.5 231.4 927.3 233.1C923.1 234.9 919.6 239.4 914.7 241.5C909.8 243.6 903.5 244.7 897.9 245.8C892.2 246.8 886.6 246.8 881.0 247.9C875.4 248.9 869.4 250.0 864.2 252.1C858.9 254.2 854.0 259.1 849.5 260.5C844.9 261.9 839.8 261.5 836.8 260.5C833.8 259.4 831.6 257.0 831.6 254.2Z"/><path d="M77.5 89.1L83.7 93.3L77.5 97.6Z"/><path d="M594.5 487.4L600.8 485.4L603.1 489.7L599.4 493.2Z"/><path d="M794.4 646.9L797.8 644.6L801.7 646.9L797.8 649.7Z"/></g>
</g>
<g fill="#808080" fill-opacity="0.5">
<rect x="204" y="36.5" width="2" height="636.0"/>
<rect x="331" y="36.5" width="2" height="636.0"/>
<rect x="459" y="36.5" width="2" height="636.0"/>
<rect x="586" y="36.5" width="2" height="636.0"/>
<rect x="714" y="36.5" width="2" height="636.0"/>
<rect x="841" y="36.5" width="2" height="636.0"/>
<rect x="78.5" y="544" width="891.0" height="2"/>
<rect x="78.5" y="417" width="891.0" height="2"/>
<rect x="78.5" y="289" width="891.0" height="2"/>
<rect x="78.5" y="162" width="891.0" height="2"/>
</g>
<g clip-path="url(#ax)">
<g fill="none" stroke="#000" stroke-width="1.75" stroke-linejoin="round" stroke-linecap="round">
<path d="M101.0 139.4C101.1 139.5 101.9 140.8 102.2 141.1C102.5 141.3 103.6 141.9 103.9 141.8C104.2 141.7 105.0 140.1 105.3 140.0C105.6 139.9 106.4 140.5 106.7 140.7C107.0 140.9 107.7 142.1 108.1 142.1C108.4 142.1 109.7 140.7 110.1 140.4C110.5 140.1 111.8 139.4 112.2 139.4C112.6 139.3 113.9 139.8 114.3 140.0C114.6 140.3 115.6 141.7 116.0 141.8C116.3 141.9 117.4 141.3 117.7 141.1C118.0 140.9 118.8 139.8 119.1 139.7C119.4 139.6 120.4 140.2 120.8 140.0C121.1 139.9 122.2 138.4 122.5 138.3C122.9 138.3 124.0 139.1 124.2 139.4C124.5 139.6 125.0 140.5 125.3 140.4C125.5 140.3 126.6 138.6 127.0 138.3C127.3 138.0 128.4 137.3 128.7 137.3C129.0 137.3 130.1 137.9 130.2 138.0"/>
<path d="M115.6 141.8C115.8 141.5 117.7 140.1 118.2 140.0C118.7 140.0 120.9 140.8 120.8 141.1C120.7 141.3 117.5 142.4 117.0 142.4C116.5 142.5 115.5 142.0 115.6 141.8Z"/>
<path d="M138.0 137.3C138.7 137.2 143.8 136.6 144.9 136.3C145.9 136.0 147.7 134.5 148.3 134.2C148.9 133.9 150.4 133.2 150.9 133.2C151.4 133.1 153.1 133.6 153.5 133.9C153.8 134.1 155.0 135.7 154.8 135.9C154.7 136.2 152.4 136.3 151.7 136.3C151.1 136.3 148.9 136.0 148.6 135.9"/>
<path d="M154.8 135.9C155.4 136.0 159.3 136.2 160.3 136.3C161.4 136.3 165.0 136.7 165.5 136.8"/>
<path d="M205.9 127.0 L209.3 126.8"/>
<path d="M207.8 78.7 L212.1 79.7"/>
<path d="M217.1 127.0C217.1 126.8 219.0 125.0 219.6 124.6C220.2 124.1 222.3 122.9 223.1 122.5C223.9 122.1 226.6 121.0 227.4 120.8C228.2 120.5 230.3 120.1 230.8 120.1C231.3 120.1 232.6 120.9 232.5 121.1C232.4 121.4 230.6 122.3 230.0 122.5C229.3 122.7 226.3 122.7 225.7 122.9C225.0 123.0 223.7 123.9 223.1 124.2C222.5 124.5 220.2 125.7 219.6 125.9C219.0 126.2 217.1 127.1 217.1 127.0Z"/>
<path d="M232.5 120.8C232.8 120.6 236.8 119.4 237.7 119.1C238.6 118.7 240.4 117.4 241.1 117.0C241.8 116.6 243.9 115.5 244.6 115.3C245.3 115.0 247.4 114.8 248.0 114.6C248.6 114.4 250.2 113.3 250.6 113.2C251.0 113.2 252.4 113.9 252.3 114.3C252.2 114.6 250.3 116.0 249.7 116.3C249.1 116.6 247.0 117.1 246.3 117.3C245.6 117.6 243.5 118.4 242.9 118.7C242.2 119.0 240.2 119.9 239.4 120.1C238.6 120.3 235.8 121.1 235.1 121.1C234.4 121.2 232.3 121.0 232.5 120.8Z"/>
<path d="M242.9 117.0C242.9 116.8 245.7 116.0 246.3 116.0C246.9 116.0 249.0 116.8 248.9 117.0C248.8 117.2 246.0 118.0 245.4 118.0C244.8 118.0 242.8 117.2 242.9 117.0Z"/>
<path d="M250.6 113.2C250.8 113.0 253.4 112.1 254.0 111.8C254.6 111.6 256.2 110.8 256.6 110.8C257.0 110.8 258.4 111.6 258.3 111.8C258.2 112.1 256.3 113.0 255.7 113.2C255.1 113.5 252.8 114.3 252.3 114.3C251.8 114.3 250.4 113.5 250.6 113.2Z"/>
<path d="M280.0 36.9C280.7 37.1 285.8 38.4 287.3 38.4C288.8 38.4 293.9 37.5 294.7 37.4"/>
<path d="M307.3 37.4C307.5 37.8 309.4 40.7 309.4 41.6C309.4 42.4 307.2 45.1 307.3 45.8C307.4 46.4 310.2 47.3 310.4 47.9C310.6 48.4 309.9 50.5 309.4 51.0C308.9 51.5 304.9 52.7 305.2 52.7C305.5 52.7 311.2 51.1 312.5 51.0C313.9 50.9 317.8 52.2 318.8 52.1C319.9 52.0 322.0 50.4 323.0 50.0C324.1 49.5 328.2 47.9 329.3 47.9C330.5 47.9 333.5 49.6 334.6 50.0C335.6 50.3 338.9 50.5 339.8 51.0C340.8 51.5 343.2 55.1 344.0 55.2C344.9 55.3 347.6 52.7 348.3 52.1C348.9 51.4 349.8 49.1 350.4 48.9C350.9 48.7 352.7 49.8 353.5 50.0C354.3 50.2 357.6 51.0 358.8 51.0C359.9 51.0 363.8 50.3 365.1 50.0C366.3 49.6 370.5 47.3 371.4 47.2C372.2 47.1 373.8 48.3 373.5 48.9C373.2 49.5 369.2 52.3 368.2 53.1C367.3 54.0 364.5 56.3 364.0 57.3C363.5 58.4 363.3 62.6 363.0 63.6C362.6 64.7 361.5 67.3 360.9 67.8C360.2 68.3 357.6 68.5 356.7 68.9C355.7 69.3 352.2 71.4 351.4 72.0C350.6 72.7 349.1 74.7 348.3 75.2C347.4 75.6 343.9 76.3 343.0 76.6C342.1 77.0 339.7 78.4 338.8 78.7C337.9 79.1 334.4 79.9 333.5 80.4C332.7 80.9 331.1 83.1 330.4 83.6C329.7 84.1 326.7 85.3 326.2 85.7C325.7 86.1 325.7 87.7 325.1 87.8C324.6 87.9 322.0 86.9 320.9 86.7C319.9 86.6 315.9 86.1 314.6 86.3C313.4 86.5 309.6 88.3 308.3 88.8C307.1 89.4 303.2 91.4 302.0 92.0C300.9 92.6 297.8 94.6 296.8 95.1C295.7 95.7 291.6 96.9 291.5 97.2C291.4 97.6 295.0 98.8 295.7 98.7C296.5 98.6 297.9 96.8 298.9 96.2C299.8 95.6 303.8 93.4 305.2 93.0C306.5 92.7 311.3 92.4 312.5 92.4C313.8 92.4 316.7 93.6 317.8 93.5C318.8 93.3 321.9 91.3 323.0 90.9C324.2 90.6 328.3 90.1 329.3 89.9C330.4 89.7 332.6 89.1 333.5 88.8C334.5 88.5 337.7 87.1 338.8 86.7C339.8 86.4 342.9 85.5 344.0 85.1C345.2 84.6 349.3 83.0 350.4 82.5C351.4 82.1 353.6 80.9 354.6 80.4C355.5 80.0 358.8 78.7 359.8 78.3C360.9 77.9 363.9 76.6 365.1 76.2C366.2 75.8 370.1 74.7 371.4 74.1C372.6 73.6 376.7 71.6 377.7 71.0C378.6 70.3 380.2 68.3 380.8 67.8C381.5 67.3 383.0 66.1 384.0 65.7C384.9 65.3 389.0 64.0 390.3 63.6C391.5 63.2 395.6 61.8 396.6 61.5C397.5 61.2 399.4 60.8 399.7 60.7"/>
<path d="M270.5 104.6C270.8 104.1 272.6 102.0 273.7 101.4C274.7 100.9 279.6 99.2 281.0 98.9C282.4 98.6 286.3 98.1 287.3 98.3C288.4 98.4 291.3 99.9 291.5 100.4C291.7 100.9 290.5 103.1 289.4 103.5C288.4 104.0 282.5 104.8 281.0 105.2C279.5 105.6 275.8 107.2 274.7 107.3C273.7 107.4 270.9 106.3 270.5 106.1C270.1 105.8 270.2 105.1 270.5 104.6Z"/>
<path d="M384.3 43.1C384.2 42.8 385.0 41.5 385.7 41.2C386.4 40.8 390.1 40.0 391.5 39.7C392.8 39.5 397.4 38.9 399.1 38.8C400.8 38.6 407.6 38.0 408.7 38.0C409.7 38.0 410.3 38.5 409.6 38.8C408.9 39.0 402.8 40.1 402.0 40.5C401.1 40.9 401.8 42.3 401.0 42.6C400.2 42.9 395.8 43.4 394.3 43.6C392.9 43.7 387.7 44.4 386.7 44.3C385.7 44.3 384.4 43.4 384.3 43.1Z"/>
<path d="M419.2 36.9C418.9 37.0 416.9 38.3 416.3 38.6C415.7 38.9 414.1 39.4 413.4 39.7C412.8 40.1 410.3 41.6 409.6 42.1C408.9 42.6 407.0 44.0 406.7 44.5C406.5 45.0 406.7 46.6 407.2 46.9C407.7 47.2 410.6 47.7 411.5 47.8C412.4 48.0 415.7 48.5 416.3 48.8C416.9 49.1 417.8 50.3 417.7 50.7C417.6 51.1 416.1 52.2 415.3 52.6C414.6 53.0 411.4 54.1 410.6 54.5C409.7 55.0 407.4 56.5 406.7 56.9C406.1 57.4 404.6 58.5 403.9 58.8C403.1 59.1 400.0 59.5 399.1 59.8C398.2 60.0 396.0 60.9 395.3 61.2C394.5 61.5 392.2 62.3 391.5 62.7C390.7 63.0 388.4 64.6 387.6 65.0C386.9 65.5 384.6 67.1 383.8 67.4C383.1 67.7 380.4 68.1 380.0 68.2"/>
<path d="M380.0 61.9C380.3 62.0 382.5 62.3 382.7 62.7C382.9 63.0 382.4 65.0 382.1 65.3C381.8 65.7 380.2 66.2 380.0 66.3"/>
<path d="M463.1 37.3C462.8 37.6 461.0 39.3 460.2 39.7C459.5 40.1 456.4 40.8 455.5 41.2C454.5 41.5 451.3 42.6 450.7 43.1C450.0 43.5 449.3 45.3 448.8 45.5C448.2 45.7 445.9 44.9 444.9 45.0C444.0 45.1 440.2 46.4 439.2 46.4C438.2 46.5 435.2 45.8 434.9 45.5C434.6 45.1 435.7 43.5 436.4 43.1C437.0 42.7 440.3 41.9 441.1 41.6C442.0 41.4 444.4 41.0 444.9 40.7C445.5 40.4 447.0 39.0 446.9 38.8C446.7 38.5 443.9 38.4 443.0 38.3C442.2 38.2 438.8 38.0 438.3 37.8C437.7 37.7 437.4 37.0 437.3 36.9"/>
<path d="M438.3 39.7C438.6 39.7 441.3 39.2 442.1 39.3C442.8 39.3 445.5 39.9 445.9 39.9"/>
<path d="M400.1 68.9C400.1 68.3 401.4 66.8 402.0 66.5C402.5 66.1 405.1 65.8 405.8 65.5C406.5 65.2 408.1 63.9 408.7 63.6C409.2 63.3 410.9 62.9 411.5 62.7C412.1 62.4 413.7 61.1 414.4 60.7C415.1 60.4 417.4 59.2 418.2 58.8C419.0 58.5 421.4 57.4 422.0 56.9C422.7 56.5 424.2 54.9 424.9 54.5C425.6 54.2 428.1 53.1 428.7 53.1C429.3 53.1 430.5 54.2 430.6 54.5C430.7 54.9 429.4 56.2 429.7 56.4C430.0 56.7 433.0 56.7 433.5 56.9C434.0 57.1 435.1 58.1 434.9 58.4C434.8 58.6 432.7 59.7 432.1 59.8C431.4 59.9 429.3 59.2 428.7 59.3C428.1 59.5 425.7 60.9 425.8 61.2C425.9 61.6 429.1 62.2 429.7 62.7C430.2 63.1 431.6 65.0 431.6 65.5C431.6 66.0 430.2 67.3 429.7 67.4C429.1 67.6 426.5 66.8 425.8 67.0C425.2 67.1 423.6 68.4 423.0 68.9C422.4 69.3 420.8 70.9 420.1 71.2C419.4 71.6 417.0 71.9 416.3 72.2C415.6 72.5 414.1 73.8 413.4 74.1C412.8 74.4 410.3 74.9 409.6 75.1C408.9 75.3 407.3 76.1 406.7 76.0C406.2 75.9 404.4 74.5 403.9 74.1C403.4 73.7 402.3 72.7 402.0 72.2C401.6 71.7 400.1 69.4 400.1 68.9Z"/>
<path d="M410.6 67.0C410.9 66.7 412.9 65.0 413.4 64.6C414.0 64.1 415.6 63.0 416.3 62.7C417.0 62.3 419.4 61.1 420.1 60.7C420.8 60.4 422.4 59.3 423.0 59.0C423.6 58.7 425.6 58.0 425.8 57.9"/>
<path d="M408.7 72.2C409.0 72.0 411.7 70.7 412.5 70.3C413.2 69.9 415.5 68.7 416.3 68.4C417.1 68.0 419.4 67.3 420.1 67.0C420.8 66.6 422.4 65.3 423.0 65.0C423.6 64.8 425.6 64.2 425.8 64.1"/>
<path d="M412.5 65.5C412.5 65.8 413.0 67.9 413.0 68.4C412.9 68.9 411.7 70.5 411.5 70.8"/>
<path d="M418.2 61.7C418.3 62.0 419.2 64.0 419.2 64.6C419.1 65.1 417.9 67.1 417.7 67.4"/>
<path d="M423.9 56.4C424.1 56.7 425.4 58.5 425.4 59.0C425.4 59.5 424.1 61.4 423.9 61.7"/>
<path d="M401.0 70.3C401.3 70.4 403.4 70.9 403.9 71.2C404.4 71.6 406.0 73.4 406.3 73.6"/>
<path d="M398.6 80.8C398.9 80.7 400.4 79.6 401.0 79.4C401.6 79.2 404.2 78.9 404.8 78.9C405.5 78.9 407.4 79.6 407.7 79.7"/>
<path d="M371.4 61.5C371.7 61.0 376.4 61.0 377.7 61.1C378.9 61.2 383.6 62.2 384.0 62.6C384.4 62.9 382.5 64.6 381.9 64.7C381.2 64.8 378.4 63.4 377.7 63.6C376.9 63.8 375.1 67.0 374.5 66.8C373.9 66.6 371.1 62.1 371.4 61.5Z"/>
<path d="M320.9 95.6C321.1 95.2 323.5 94.1 324.1 94.1C324.7 94.1 327.1 95.2 327.2 95.6C327.4 95.9 326.1 97.5 325.6 97.7C325.0 97.8 322.4 97.4 322.0 97.2C321.5 97.0 320.7 95.9 320.9 95.6Z"/>
<path d="M330.4 97.7C330.6 97.6 332.1 96.7 332.5 96.8C332.9 96.9 333.5 98.5 334.0 98.5C334.4 98.5 336.1 97.2 336.7 97.2C337.2 97.3 339.2 99.1 339.4 99.3"/>
<path d="M344.0 41.6C344.2 41.2 346.7 40.4 347.2 40.5C347.7 40.6 349.4 42.3 349.3 42.6C349.2 42.9 346.7 43.8 346.2 43.7C345.6 43.6 343.9 41.9 344.0 41.6Z"/>
<path d="M590.0 38.9C591.9 39.6 605.4 43.9 609.5 45.4C613.5 47.0 626.0 52.5 630.6 54.4C635.1 56.2 650.6 62.4 654.9 64.1C659.3 65.8 671.2 70.3 674.4 71.4C677.7 72.5 684.8 73.8 687.4 74.7C690.0 75.5 697.8 79.2 700.4 80.3C703.0 81.5 712.1 85.4 713.4 86.0"/>
<path d="M590.0 38.1C591.0 38.4 597.6 40.6 599.7 41.4C601.9 42.2 609.2 45.4 611.1 46.2C613.1 47.0 618.0 49.3 619.2 49.5C620.4 49.6 622.3 48.3 623.3 47.9C624.3 47.4 627.6 45.3 629.0 44.6C630.3 44.0 635.6 41.9 637.1 41.4C638.5 40.9 642.6 39.4 643.6 39.7C644.6 40.1 646.7 43.8 646.8 44.6C647.0 45.4 645.0 47.2 645.2 47.9C645.4 48.5 648.5 50.9 649.3 51.1C650.0 51.3 651.9 49.0 652.5 49.5C653.1 50.0 654.1 55.5 654.9 56.0C655.8 56.5 660.5 54.0 661.4 54.4C662.4 54.7 664.9 58.4 664.7 59.2C664.5 60.0 660.7 62.3 659.8 62.5C658.9 62.6 656.3 60.6 655.8 60.9C655.2 61.1 654.1 63.9 654.1 64.9C654.2 65.9 656.5 69.4 656.6 70.6C656.7 71.8 655.4 76.1 654.9 77.1C654.5 78.1 652.3 80.5 651.7 80.3C651.1 80.2 649.8 75.9 649.3 75.5C648.7 75.1 646.6 76.6 646.0 76.3C645.4 76.0 644.0 73.1 643.6 72.2C643.2 71.3 642.4 67.7 642.0 67.3C641.5 67.0 639.2 69.3 638.7 69.0C638.2 68.6 637.6 64.7 637.1 64.1C636.6 63.5 634.3 63.8 633.8 63.3C633.4 62.8 632.7 59.7 632.2 59.2C631.7 58.7 629.5 58.9 629.0 58.4C628.5 57.9 627.8 54.9 627.3 54.4C626.9 53.8 625.3 53.4 624.9 52.7C624.5 52.1 623.4 48.3 623.3 47.9"/>
<path d="M630.6 49.5C631.1 49.3 634.5 47.7 635.5 47.9C636.4 48.0 640.0 50.3 640.3 51.1C640.7 51.9 638.4 55.2 638.7 56.0C639.0 56.7 642.8 58.4 643.6 58.4C644.4 58.4 646.2 55.6 646.8 56.0C647.5 56.4 650.1 61.3 650.1 62.5C650.1 63.6 647.5 67.2 646.8 67.3C646.2 67.5 644.2 64.3 643.6 64.1C642.9 63.9 640.7 64.8 640.3 64.9"/>
<path d="M661.4 78.7C661.7 78.4 663.4 76.0 663.9 75.5C664.4 75.0 665.7 73.8 666.3 73.8C667.0 73.8 669.6 75.5 670.4 75.5C671.2 75.4 673.6 72.9 674.4 73.0C675.2 73.1 677.8 75.9 678.5 76.3C679.1 76.7 680.4 76.7 680.9 77.1C681.5 77.5 683.5 79.8 684.2 80.3C684.8 80.8 686.8 81.4 687.4 82.0C688.1 82.5 690.0 85.7 690.7 86.0C691.3 86.3 693.3 85.0 693.9 85.2C694.6 85.4 696.5 88.3 697.2 88.5C697.8 88.6 699.8 86.5 700.4 86.8C701.1 87.2 703.5 90.7 703.7 91.7C703.8 92.7 702.5 96.3 702.0 96.6C701.5 96.8 699.4 94.3 698.8 94.1C698.1 94.0 696.1 94.5 695.5 94.9C695.0 95.4 693.6 97.9 693.1 98.2C692.6 98.5 691.2 98.6 690.7 98.2C690.1 97.8 687.9 94.5 687.4 94.1C686.9 93.8 686.2 95.3 685.8 94.9C685.4 94.6 683.8 91.2 683.4 90.9C682.9 90.6 681.3 92.1 680.9 91.7C680.5 91.3 679.6 87.5 679.3 86.8C679.0 86.2 678.2 85.3 677.7 85.2C677.2 85.1 675.1 86.2 674.4 86.0C673.8 85.9 671.8 83.6 671.2 83.6C670.6 83.6 669.2 85.9 668.7 86.0C668.3 86.2 666.8 85.6 666.3 85.2C665.8 84.8 664.4 82.6 663.9 82.0C663.4 81.3 661.7 79.0 661.4 78.7"/>
<path d="M666.3 91.7C666.5 91.2 667.5 87.0 667.9 86.8C668.3 86.7 670.2 88.9 670.4 90.1C670.5 91.2 669.4 97.7 669.6 98.2C669.7 98.7 671.5 94.6 672.0 94.9C672.5 95.3 674.2 100.3 674.4 101.4C674.7 102.6 674.1 106.2 674.4 106.3C674.8 106.5 677.1 102.9 677.7 103.1C678.2 103.2 680.1 106.8 680.1 107.9C680.1 109.1 677.6 113.9 677.7 114.4C677.8 114.9 680.4 112.2 680.9 112.8C681.4 113.5 682.1 120.4 682.6 120.9C683.0 121.4 685.1 117.0 685.8 117.7C686.4 118.3 688.4 126.6 689.0 127.4C689.7 128.2 691.6 125.3 692.3 125.8C692.9 126.3 694.6 131.2 695.5 132.3C696.4 133.4 700.9 137.0 701.2 137.2C701.5 137.3 699.4 134.2 698.8 133.9C698.2 133.6 696.2 134.6 695.5 133.9C694.9 133.3 692.9 127.9 692.3 127.4C691.7 126.9 690.3 129.7 689.9 129.0C689.4 128.4 687.9 121.7 687.4 120.9C686.9 120.2 685.3 122.4 685.0 121.7C684.7 121.1 683.9 115.5 684.2 114.4C684.4 113.4 686.7 111.6 687.4 111.2C688.2 110.8 691.0 110.7 691.5 110.4C692.0 110.0 692.5 108.3 692.3 107.9C692.0 107.5 689.5 106.9 689.0 106.3C688.6 105.7 687.9 102.5 687.4 102.3C686.9 102.0 684.8 104.1 684.2 103.9C683.5 103.6 681.5 100.1 680.9 99.8C680.4 99.6 679.0 101.8 678.5 101.4C678.0 101.1 676.5 97.0 676.1 96.6C675.6 96.2 674.1 97.7 673.6 97.4C673.1 97.1 671.7 93.6 671.2 93.3C670.7 93.0 669.2 94.3 668.7 94.1C668.3 94.0 666.6 91.9 666.3 91.7"/>
<path d="M674.4 78.7C674.6 78.4 677.1 79.8 677.7 80.3C678.2 80.8 679.5 83.2 680.1 83.6C680.7 84.0 682.8 84.0 683.4 84.4C683.9 84.8 685.9 87.2 685.8 87.6C685.7 88.0 683.2 88.6 682.6 88.5C681.9 88.3 680.0 86.5 679.3 86.0C678.7 85.5 676.5 84.3 676.1 83.6C675.6 82.9 674.3 79.0 674.4 78.7Z"/>
<path d="M687.4 77.1C688.1 77.2 692.5 78.1 693.9 78.7C695.4 79.3 700.6 82.0 702.0 82.8C703.5 83.6 707.4 86.3 708.5 86.8C709.7 87.4 712.9 88.3 713.4 88.5"/>
<path d="M695.5 96.6C695.9 96.9 698.0 99.3 698.8 99.8C699.6 100.3 702.8 101.4 703.7 101.4C704.5 101.4 706.3 100.3 706.9 99.8C707.6 99.3 709.7 96.4 710.2 96.6C710.6 96.7 711.9 100.5 711.8 101.4C711.7 102.4 709.4 105.5 709.3 106.3C709.3 107.1 710.8 109.2 711.0 109.6"/>
<path d="M705.3 112.8C705.3 112.3 707.1 111.0 707.7 111.2C708.3 111.3 710.4 114.2 711.0 114.4C711.5 114.7 712.9 113.3 713.4 113.6C713.9 113.9 715.3 116.8 715.8 117.7C716.3 118.6 718.4 122.1 718.3 122.6C718.2 123.0 715.5 122.1 715.0 121.7C714.5 121.4 713.9 119.6 713.4 119.3C712.9 119.0 710.7 118.8 710.2 118.5C709.6 118.2 708.2 116.6 707.7 116.1C707.2 115.5 705.3 113.3 705.3 112.8Z"/>
<path d="M622.6 48.1C623.3 47.5 631.1 45.9 632.2 45.2C633.4 44.5 633.0 41.5 634.2 40.8C635.3 40.2 642.2 38.8 643.9 38.9C645.5 39.0 650.1 41.2 650.6 41.8C651.1 42.4 648.2 44.0 648.7 44.7C649.2 45.4 653.9 47.7 655.5 48.6C657.0 49.4 662.5 52.4 664.2 53.4C665.8 54.4 670.9 57.2 671.9 58.2C672.9 59.3 673.8 63.1 673.8 64.1C673.8 65.0 672.5 67.1 671.9 67.9C671.3 68.8 668.8 72.1 668.0 72.8C667.3 73.4 664.8 73.8 664.2 74.7C663.6 75.6 662.6 80.4 662.2 81.5C661.8 82.5 660.3 85.6 660.3 85.3C660.3 85.0 662.4 79.4 662.2 78.6C662.0 77.7 659.0 76.2 658.4 76.6C657.7 77.0 656.0 82.2 655.5 82.4C654.9 82.6 653.1 79.3 652.6 78.6C652.0 77.8 650.3 75.3 649.7 74.7C649.0 74.1 646.6 72.9 645.8 72.8C645.0 72.7 642.6 74.2 641.9 73.7C641.2 73.2 639.7 68.8 639.0 67.9C638.3 67.1 635.9 65.7 635.2 65.0C634.4 64.3 631.6 61.9 631.3 61.2C631.0 60.4 632.5 57.9 632.2 57.3C632.0 56.7 629.2 55.9 628.4 55.3C627.6 54.8 625.1 52.2 624.5 51.5C623.9 50.8 621.8 48.7 622.6 48.1Z"/>
<path d="M631.3 50.5C631.9 50.3 636.1 48.5 637.1 48.6C638.1 48.7 640.8 50.8 641.0 51.5C641.1 52.2 638.7 54.8 639.0 55.3C639.3 55.9 642.9 57.3 643.9 57.3C644.8 57.3 647.9 55.1 648.7 55.3C649.5 55.6 651.6 59.3 651.6 60.2C651.6 61.1 648.5 63.4 648.7 64.1C648.9 64.7 652.9 66.2 653.5 67.0C654.2 67.7 655.6 71.0 655.5 71.8C655.4 72.6 652.9 74.4 652.6 74.7"/>
<path d="M642.9 45.7C643.3 45.5 646.2 43.4 646.8 43.7C647.3 44.1 648.2 48.6 648.7 49.5C649.2 50.5 650.9 52.6 651.6 53.4C652.3 54.2 654.8 56.5 655.5 57.3C656.1 58.1 658.3 60.4 658.4 61.2C658.5 61.9 656.2 64.3 656.4 65.0C656.6 65.7 660.0 67.2 660.3 67.9C660.6 68.6 659.4 71.4 659.3 71.8"/>
<path d="M634.2 59.2C634.7 59.4 638.1 60.6 639.0 61.2C639.9 61.7 642.2 64.2 642.9 65.0C643.6 65.8 645.2 68.2 645.8 68.9C646.4 69.6 648.1 71.0 648.7 71.8C649.3 72.6 651.0 75.7 651.6 76.6C652.2 77.6 654.2 81.0 654.5 81.5"/>
<path d="M660.3 55.3C660.7 55.6 663.5 57.6 664.2 58.2C664.8 58.9 667.0 61.3 667.1 62.1C667.2 62.9 665.0 65.3 665.1 66.0C665.2 66.7 667.7 68.6 668.0 68.9"/>
<path d="M667.1 74.7C667.5 75.0 670.7 76.9 670.9 77.6C671.1 78.3 668.8 80.8 669.0 81.5C669.2 82.1 672.8 83.7 672.9 84.4C673.0 85.0 669.9 87.6 670.0 88.2C670.1 88.9 673.6 90.5 673.8 91.1C674.0 91.8 671.7 94.3 671.9 95.0C672.1 95.7 675.2 97.1 675.8 97.9C676.4 98.7 677.2 102.2 677.7 102.7C678.2 103.3 680.3 103.6 680.6 103.7"/>
<path d="M668.0 79.5C668.3 80.0 670.4 83.5 670.5 84.4C670.5 85.2 668.4 87.5 668.5 88.2C668.7 89.0 671.7 90.8 671.9 91.6C672.1 92.4 670.3 95.2 670.5 96.0C670.7 96.7 673.5 98.6 673.8 98.9"/>
<path d="M671.9 73.7C672.5 73.8 676.7 74.2 677.7 74.7C678.7 75.2 681.4 77.8 681.6 78.6C681.8 79.3 679.4 81.9 679.6 82.4C679.9 83.0 683.7 83.8 684.5 84.4C685.3 84.9 687.3 87.5 687.4 88.2C687.5 89.0 685.3 91.5 685.5 92.1C685.6 92.7 689.1 93.5 689.3 94.0C689.5 94.6 687.6 97.5 687.4 97.9"/>
<path d="M677.7 81.5C677.9 80.9 680.8 79.5 681.6 79.5C682.4 79.5 685.3 80.9 685.5 81.5C685.6 82.0 684.1 84.9 683.5 85.3C682.9 85.7 680.2 85.7 679.6 85.3C679.1 84.9 677.5 82.0 677.7 81.5Z"/>
<path d="M683.5 82.4C683.8 81.9 686.7 81.3 687.4 81.5C688.1 81.7 690.3 83.8 690.3 84.4C690.3 84.9 688.0 87.1 687.4 87.3C686.8 87.5 684.9 86.8 684.5 86.3C684.1 85.8 683.2 82.9 683.5 82.4Z"/>
<path d="M692.2 90.2C692.5 89.5 694.3 86.8 695.1 86.3C696.0 85.8 700.1 84.9 700.9 85.3C701.8 85.7 703.6 89.2 703.8 90.2C704.0 91.1 703.3 94.2 702.9 95.0C702.4 95.8 699.8 97.8 699.0 97.9C698.2 98.0 695.8 96.5 695.1 96.0C694.4 95.5 692.5 93.7 692.2 93.1C691.9 92.5 691.9 90.8 692.2 90.2Z"/>
<path d="M694.2 96.0C694.4 96.4 696.4 99.3 697.1 99.8C697.7 100.4 700.5 101.6 700.9 101.8"/>
<path d="M689.3 76.6C689.9 76.8 694.0 78.1 695.1 78.6C696.3 79.0 699.8 81.0 700.9 81.5C702.1 81.9 705.8 83.1 706.7 83.4C707.6 83.7 709.7 84.3 710.0 84.4"/>
<path d="M610.0 48.1C610.6 48.3 614.5 49.9 615.8 50.5C617.1 51.1 621.9 54.0 622.6 54.4"/>
<path d="M703.2 93.2C703.6 93.9 706.3 98.6 706.5 99.7C706.7 100.9 704.5 103.8 704.9 104.6C705.2 105.4 709.4 107.0 709.7 107.9C710.1 108.7 707.8 112.1 708.1 112.7C708.4 113.4 712.3 113.7 713.0 114.4C713.6 115.0 714.0 118.9 714.6 119.2C715.3 119.6 718.8 117.3 719.5 117.6C720.2 117.9 721.3 122.1 721.9 122.5C722.6 122.8 725.3 120.5 726.0 120.9C726.6 121.2 727.8 125.3 728.4 125.7C729.1 126.1 731.8 124.4 732.5 124.9C733.1 125.4 734.3 130.2 734.9 130.6C735.5 131.0 737.8 128.5 738.2 129.0C738.6 129.5 738.6 135.1 739.0 135.5C739.3 135.9 741.2 132.5 741.4 133.0C741.6 133.5 740.8 139.3 740.6 140.3C740.3 141.4 739.1 143.3 739.0 143.6"/>
<path d="M726.0 116.0C726.5 115.7 730.0 113.5 730.9 113.5C731.7 113.6 734.1 116.3 734.9 116.8C735.7 117.3 738.4 117.9 739.0 118.4C739.5 118.9 740.8 121.4 740.6 121.7C740.3 121.9 737.3 121.1 736.5 120.9C735.7 120.6 733.3 119.5 732.5 119.2C731.7 119.0 728.8 118.5 728.4 118.4"/>
<path d="M739.0 130.6C739.4 130.3 742.1 128.3 743.0 128.2C744.0 128.0 747.7 129.0 748.7 129.0C749.8 129.0 753.3 127.8 753.6 128.2C753.9 128.5 751.8 131.4 752.0 132.2C752.1 133.0 755.4 136.0 755.2 136.3C755.0 136.5 751.2 135.0 750.3 134.7C749.4 134.3 746.7 133.2 746.3 133.0"/>
<path d="M739.0 143.6C739.3 143.5 741.9 142.0 742.5 142.3C743.2 142.6 744.8 146.5 745.5 146.8C746.1 147.1 748.1 144.9 748.7 145.2C749.4 145.5 751.1 149.7 752.0 150.1C752.8 150.5 755.9 149.0 756.8 149.3C757.8 149.5 760.7 152.3 761.7 152.5C762.7 152.8 765.8 151.5 766.6 151.7C767.4 151.9 769.2 154.7 769.8 154.9C770.5 155.2 772.4 153.6 773.1 154.1C773.7 154.6 775.7 159.3 776.3 159.8C777.0 160.3 778.9 158.6 779.6 159.0C780.2 159.4 782.0 163.5 782.8 163.9C783.6 164.3 786.9 162.8 787.7 163.1C788.5 163.3 790.2 166.0 790.9 166.3C791.7 166.6 794.3 166.0 795.0 166.3C795.6 166.6 796.8 169.3 797.4 169.6C798.1 169.8 800.8 168.6 801.5 168.7C802.1 168.9 803.5 170.6 803.9 171.2C804.3 171.8 805.2 173.9 805.5 174.4C805.9 174.9 806.7 175.4 807.2 176.1C807.7 176.7 809.9 179.8 810.4 180.9C810.9 182.1 812.0 186.1 812.0 187.4C812.0 188.7 810.9 192.8 810.4 193.9C809.9 195.1 808.0 198.5 807.2 198.8C806.4 199.1 802.9 197.7 802.3 197.2C801.7 196.7 801.3 194.6 801.5 193.9C801.6 193.3 803.4 191.5 803.9 190.7C804.4 189.9 806.2 186.7 806.4 185.8C806.5 184.9 805.8 182.5 805.5 181.7C805.3 181.0 804.1 178.8 803.9 178.5"/>
<path d="M735.7 154.1C736.0 153.8 738.3 152.7 739.0 152.5C739.6 152.3 741.2 152.3 742.2 152.5C743.2 152.7 747.4 153.7 748.7 154.1C750.0 154.5 753.7 156.2 755.2 156.6C756.7 157.0 761.7 157.7 763.3 158.2C764.9 158.7 770.0 160.6 771.4 161.4C772.9 162.3 776.6 165.3 777.9 166.3C779.2 167.3 783.1 170.2 784.4 171.2C785.7 172.2 789.6 175.2 790.9 176.1C792.2 176.9 796.1 179.4 797.4 180.1C798.7 180.8 803.3 182.4 803.9 182.9C804.6 183.3 804.6 184.4 803.9 184.5C803.3 184.5 798.6 183.6 797.4 183.4C796.3 183.2 793.5 182.8 792.6 182.6C791.6 182.3 788.8 181.3 787.7 180.9C786.5 180.5 782.0 179.2 781.2 178.5C780.4 177.8 780.4 173.9 779.9 173.6C779.4 173.4 777.0 176.1 776.3 176.1C775.6 176.1 773.7 173.8 773.1 173.6C772.4 173.5 770.5 174.7 769.8 174.4C769.1 174.2 766.6 171.5 765.8 171.2C764.9 170.9 762.5 171.5 761.7 171.2C760.9 170.9 758.5 168.4 757.6 167.9C756.8 167.4 754.4 166.8 753.6 166.3C752.8 165.8 750.3 163.6 749.5 163.1C748.7 162.6 746.2 161.9 745.5 161.4C744.7 161.0 742.9 158.5 742.2 158.2C741.6 157.9 739.5 158.4 739.0 158.2C738.4 158.0 736.9 156.7 736.5 156.2C736.2 155.8 735.5 154.5 735.7 154.1Z"/>
<path d="M790.9 161.4C791.3 161.6 793.5 162.6 794.2 163.1C794.8 163.6 796.9 166.1 797.4 166.3C798.0 166.6 799.6 165.6 799.9 165.5"/>
<path d="M781.2 181.7C781.3 182.3 781.5 186.5 782.0 187.4C782.5 188.3 785.4 189.7 786.1 190.7C786.7 191.6 788.3 196.0 788.5 197.2C788.7 198.3 787.5 201.1 787.7 202.0C787.8 203.0 789.8 206.0 790.1 206.9C790.4 207.8 790.8 210.2 790.9 211.0C791.1 211.7 791.7 213.9 791.7 214.2"/>
<path d="M806.4 175.4 L870.0 174.9"/>
<path d="M809.5 175.9 L982.0 174.6"/>
<path d="M834.8 185.8C835.1 186.0 837.4 187.0 838.0 187.4C838.6 187.9 840.2 190.1 840.4 190.3"/>
<path d="M865.6 166.3C865.8 166.6 866.8 168.4 867.2 168.7C867.7 169.1 869.7 169.8 870.0 169.9"/>
<path d="M791.9 214.6C791.6 215.4 789.8 220.6 789.2 223.2C788.6 225.7 786.2 236.9 785.7 240.3C785.2 243.8 784.3 255.0 784.4 257.5C784.4 260.1 785.9 265.3 786.1 266.1"/>
<path d="M786.3 261.0C786.6 261.9 789.4 268.0 789.5 269.5C789.5 270.9 787.1 274.5 786.9 275.8C786.7 277.0 786.9 280.7 787.4 282.1C787.8 283.5 790.9 288.2 791.6 289.5C792.2 290.7 793.4 293.6 793.7 294.7C794.0 295.9 794.5 300.0 794.7 301.0C794.9 302.1 795.1 304.5 795.8 305.2C796.4 306.0 800.2 307.6 801.0 308.4C801.9 309.2 803.6 313.2 804.2 313.7C804.8 314.1 806.7 311.6 807.4 312.6C808.0 313.7 809.9 322.8 810.5 324.2C811.1 325.6 813.0 325.7 813.7 326.3C814.3 326.9 816.4 329.5 816.8 330.5C817.2 331.4 817.7 334.9 817.9 335.8C818.1 336.6 818.2 338.0 818.9 338.9C819.7 339.9 824.2 344.2 825.2 345.2C826.3 346.3 828.7 348.5 829.5 349.4C830.2 350.4 832.2 353.6 832.6 354.7C833.0 355.8 832.7 359.4 833.7 360.0C834.6 360.5 840.6 360.2 842.1 360.4C843.6 360.6 847.1 361.8 848.4 362.1C849.7 362.3 853.4 362.7 854.7 363.1C856.0 363.5 860.0 365.5 861.0 366.3C862.1 367.0 864.4 369.9 865.2 370.5C866.1 371.1 868.6 371.9 869.4 372.6C870.3 373.3 872.9 376.8 873.6 377.8C874.4 378.9 876.2 382.2 876.8 383.1C877.4 384.1 879.4 386.5 880.0 387.3C880.5 388.2 881.6 390.6 882.1 391.5C882.5 392.5 883.7 395.8 884.2 396.8C884.6 397.7 886.1 400.6 886.3 401.0"/>
<path d="M803.1 312.6C803.4 312.8 804.6 314.6 805.2 314.7C805.9 314.9 808.7 314.1 809.5 314.1C810.2 314.0 811.4 314.0 812.6 314.1C813.9 314.1 821.1 314.6 822.1 314.7"/>
<path d="M809.5 314.1C809.7 314.6 811.1 318.1 811.6 318.9C812.0 319.7 814.0 321.8 814.3 322.1"/>
<path d="M910.5 353.6C910.8 354.1 912.7 357.0 913.2 357.9C913.7 358.7 915.9 361.2 915.7 362.1C915.6 362.9 912.5 365.4 912.0 366.3C911.4 367.1 910.5 369.4 910.5 370.5C910.5 371.5 912.0 375.9 912.0 376.8C911.9 377.7 909.9 379.3 909.8 380.0C909.8 380.6 911.4 383.2 911.5 383.5"/>
<path d="M878.9 385.2 L911.5 383.5"/>
<path d="M907.3 386.3C912.2 387.7 949.4 399.5 955.7 401.0C962.0 402.5 969.0 401.0 970.5 401.0"/>
<path d="M907.3 340.6C907.7 340.4 910.8 339.5 911.5 338.9C912.3 338.3 914.3 334.7 914.7 334.7C915.1 334.7 914.9 338.4 915.3 338.9C915.7 339.4 918.2 339.5 918.9 340.0C919.6 340.4 921.7 343.2 922.1 343.5"/>
<path d="M866.7 165.8C866.5 166.0 865.1 167.8 865.0 168.3C865.0 168.9 866.2 171.0 866.3 171.2"/>
<path d="M834.3 185.1C834.7 185.3 837.2 186.3 837.9 186.8C838.5 187.3 840.7 189.9 841.0 190.2"/>
<path d="M930.5 269.5C930.8 269.1 933.9 268.8 934.7 269.0C935.4 269.3 937.2 271.3 937.8 271.6C938.5 271.8 940.4 271.0 941.0 271.6C941.6 272.1 944.0 275.9 944.2 276.8C944.3 277.8 942.6 280.7 942.0 281.0C941.5 281.4 939.4 280.3 938.9 280.0C938.4 279.6 937.3 277.9 936.8 277.5C936.3 277.0 934.2 276.3 933.6 275.8C933.1 275.3 931.8 273.3 931.5 272.6C931.2 272.0 930.2 269.8 930.5 269.5Z"/>
<path d="M891.5 373.0C891.7 372.7 894.1 371.8 894.7 372.2C895.3 372.5 897.7 376.2 897.8 376.8C898.0 377.4 896.3 378.2 895.7 378.1C895.2 378.0 893.0 376.3 892.6 375.7C892.2 375.2 891.3 373.4 891.5 373.0Z"/>
<path d="M835.8 366.3C836.3 366.4 840.0 367.1 841.0 367.1C842.1 367.2 845.8 366.7 846.3 366.7"/>
<path d="M858.9 373.4 L863.1 374.9"/>
<path d="M859.3 378.9 L862.1 381.4"/>
<path d="M802.1 193.1C802.1 191.9 803.6 187.9 804.2 186.8C804.8 185.8 807.8 182.5 808.4 182.6C809.0 182.7 810.2 186.6 810.5 187.9C810.8 189.1 811.8 194.1 811.6 195.2C811.4 196.4 809.1 199.1 808.4 199.5C807.7 199.8 804.8 199.7 804.2 199.0C803.6 198.4 802.1 194.4 802.1 193.1Z"/>
<path d="M805.3 193.1C805.6 193.0 808.2 191.8 808.4 192.1C808.7 192.4 807.8 195.9 807.8 196.3"/>
<path d="M937.2 52.5C937.3 51.9 939.9 50.2 940.8 50.1C941.6 50.0 944.9 50.8 945.5 51.3C946.1 51.8 946.9 54.3 946.7 54.8C946.5 55.4 943.9 57.1 943.1 57.2C942.4 57.3 940.2 56.0 939.6 55.6C939.0 55.1 937.1 53.0 937.2 52.5Z"/>
<path d="M952.6 52.5C953.2 52.2 957.2 50.7 958.5 50.1C959.8 49.5 964.2 47.3 965.6 46.6C967.0 45.9 972.0 43.4 972.7 43.0"/>
<path d="M972.7 48.9C971.5 49.3 962.5 51.9 960.9 52.5C959.2 53.1 956.9 54.7 956.2 54.8C955.4 55.0 953.7 53.9 953.3 53.7C953.0 53.4 952.7 52.6 952.6 52.5"/>
<path d="M335.8 518.4C335.9 517.9 338.1 516.6 338.6 516.6C339.2 516.6 341.3 517.9 341.5 518.4C341.7 518.8 341.1 520.9 340.6 521.2C340.2 521.5 337.7 521.5 337.2 521.2C336.7 520.9 335.6 518.8 335.8 518.4Z"/>
<path d="M354.4 524.7C354.6 524.1 357.8 522.4 358.7 522.7C359.5 523.0 362.8 526.8 363.0 527.5C363.1 528.2 360.7 529.5 360.1 529.5C359.5 529.6 357.2 528.6 356.7 528.1C356.1 527.6 354.2 525.2 354.4 524.7Z"/>
<path d="M367.3 529.8C367.7 529.8 370.7 529.2 371.6 529.3C372.4 529.3 375.4 530.5 375.9 530.7"/>
<path d="M375.9 532.7C376.2 532.3 379.4 531.6 380.2 531.8C380.9 532.0 383.6 534.2 383.6 534.7C383.7 535.2 381.4 537.1 380.7 537.3C380.1 537.4 377.8 536.6 377.3 536.1C376.8 535.7 375.6 533.1 375.9 532.7Z"/>
<path d="M385.3 541.3C385.9 541.0 389.2 542.7 390.2 543.3C391.2 543.9 394.2 546.7 395.1 547.6C395.9 548.5 398.8 551.1 398.8 551.9C398.8 552.7 396.1 555.0 395.1 555.6C394.1 556.2 389.7 557.6 388.8 557.6C387.8 557.7 385.8 556.9 385.3 556.2C384.8 555.5 383.7 551.5 383.6 550.5C383.5 549.5 384.3 547.1 384.5 546.2C384.6 545.2 384.8 541.6 385.3 541.3Z"/>
<path d="M875.9 380.0C876.0 380.4 876.6 382.6 877.1 383.5C877.5 384.5 879.8 388.2 880.6 389.4C881.4 390.6 884.6 394.0 885.3 395.3C886.0 396.6 886.9 401.1 887.6 402.4C888.4 403.6 891.5 406.9 892.4 408.2C893.2 409.5 895.3 414.0 895.9 415.3C896.5 416.6 897.5 420.2 898.2 421.2C898.9 422.1 901.8 424.0 902.9 424.7C904.1 425.4 908.7 427.4 910.0 428.2C911.3 429.1 915.2 431.9 915.9 432.9C916.6 434.0 917.3 437.6 917.1 438.8C916.8 440.0 914.6 444.0 913.5 444.7C912.5 445.4 906.6 445.3 906.5 445.9C906.4 446.5 911.1 449.6 912.4 450.6C913.6 451.5 918.0 454.6 919.4 455.3C920.8 456.0 925.3 457.1 926.5 457.6C927.6 458.2 930.2 460.2 931.2 461.2C932.1 462.1 934.8 465.9 935.9 467.1C936.9 468.2 941.1 471.8 941.8 472.9C942.5 474.1 943.1 477.8 942.9 478.8C942.8 479.9 940.4 482.6 940.6 483.5C940.8 484.5 944.1 487.3 945.3 488.2C946.5 489.2 950.7 492.0 952.4 492.9C954.0 493.9 960.4 496.7 961.8 497.6C963.2 498.6 965.5 501.2 966.5 502.4C967.4 503.5 970.7 508.7 971.2 509.4"/>
<path d="M971.2 508.2C970.8 506.5 968.2 493.1 967.6 490.6C967.1 488.1 966.6 484.0 966.0 483.5C965.4 483.1 962.5 486.4 961.8 485.9C961.0 485.4 958.8 480.0 958.2 478.8C957.6 477.6 956.5 475.1 955.9 474.1C955.3 473.2 952.9 470.4 952.4 469.4C951.8 468.5 950.5 465.5 950.0 464.7C949.5 463.9 948.2 462.0 947.6 461.2C947.1 460.4 944.7 457.3 944.1 456.5C943.5 455.6 942.4 453.8 941.8 452.9C941.2 452.1 938.8 448.9 938.2 448.2C937.6 447.5 936.4 446.6 935.9 445.9C935.4 445.2 934.0 442.0 933.5 441.2C933.1 440.4 931.9 438.5 931.2 437.6C930.5 436.8 927.2 433.6 926.5 432.9C925.8 432.2 924.6 431.3 924.1 430.6C923.6 429.9 922.1 426.6 921.8 425.9C921.4 425.2 921.3 424.4 920.6 423.5C919.9 422.7 915.6 418.7 914.7 417.6C913.8 416.6 911.6 413.6 911.2 412.9C910.7 412.2 910.2 411.8 910.0 410.6C909.8 409.4 909.2 402.8 908.8 401.2C908.5 399.5 906.1 394.6 906.5 394.1C906.8 393.6 911.1 396.1 912.4 396.5C913.6 396.8 918.0 397.2 919.4 397.6C920.8 398.1 925.3 400.1 926.5 401.2C927.6 402.2 930.2 406.6 931.2 408.2C932.1 409.9 934.9 415.9 935.9 417.6C936.8 419.4 939.4 424.2 940.6 425.9C941.8 427.5 946.2 432.6 947.6 434.1C949.1 435.6 953.4 440.0 954.7 441.2C956.0 442.4 959.6 444.7 960.6 445.9C961.5 447.1 963.1 452.0 964.1 452.9C965.2 453.9 970.5 455.5 971.2 455.8"/>
<path d="M922.9 424.2C923.0 423.7 924.8 422.6 925.3 422.8C925.8 423.1 927.5 425.9 927.6 426.6C927.8 427.2 927.2 429.2 926.9 429.4C926.6 429.6 925.0 428.8 924.6 428.2C924.2 427.7 922.9 424.8 922.9 424.2Z"/>
<path d="M937.5 428.2C937.8 427.9 939.2 426.8 939.4 427.1C939.7 427.3 940.2 430.0 940.1 430.6C940.0 431.2 938.5 432.9 938.2 432.9C937.9 432.9 937.1 431.1 937.1 430.6C937.0 430.1 937.3 428.6 937.5 428.2Z"/>
<path d="M940.6 483.5C940.8 483.9 942.4 486.5 942.9 487.1C943.5 487.6 946.1 488.5 946.5 488.7"/>
</g><g fill="none" stroke="#000" stroke-width="1.0">
<path d="M792.6 210.1L799.5 210.1L807.4 218.0L826.3 217.3L840.1 214.6"/>
<path d="M807.4 218.0L822.1 218.4L843.1 214.6L879.3 214.2"/>
<path d="M879.3 175.9L879.3 214.2L885.2 220.5L881.0 226.8L877.9 233.1L879.3 239.4L879.3 265.1"/>
<path d="M892.0 175.9L892.6 184.7L894.7 191.0L902.1 197.3L910.5 202.6L913.6 208.9L912.6 214.2L918.9 220.5L922.1 225.8L925.2 228.9L931.5 233.5L939.9 231.4L948.4 232.3L954.7 230.6L956.4 227.2"/>
<path d="M982.0 227.0L955.9 227.0L955.9 277.7L982.0 277.7"/>
<path d="M786.3 265.1L955.9 265.1"/>
<path d="M917.8 264.8L917.8 338.9"/>
<path d="M917.8 328.4L978.9 328.4"/>
<path d="M842.1 264.8L842.1 303.1L910.5 353.6"/>
<path d="M879.5 240.0L879.5 264.8"/>
<path d="M842.1 30.0L842.1 105.2"/>
<path d="M842.6 117.5L847.3 121.1L850.9 120.4L854.4 123.5L859.2 128.2L862.7 127.5L866.2 131.7L871.0 136.5L874.5 136.0L878.1 140.0L882.8 143.6L886.4 143.1L889.9 147.1L897.0 150.7L900.6 150.2L904.1 155.4L907.7 162.5L906.9 166.0L908.8 169.6L912.4 173.1"/>
<path d="M894.7 150.0L904.2 154.2L905.9 158.4L908.4 161.6L908.0 165.8L909.4 168.9L913.6 173.1L914.7 175.5"/>
</g><g fill="#000">
<circle cx="173.7" cy="133.7" r="1.3"/>
<circle cx="195.6" cy="130.2" r="0.8"/>
<circle cx="201.6" cy="71.0" r="1.0"/>
<circle cx="260.9" cy="110.1" r="1.4"/>
<circle cx="388.1" cy="88.6" r="1.3"/>
<circle cx="387.8" cy="88.8" r="1.4"/>
<circle cx="297.8" cy="106.7" r="1.2"/>
<circle cx="303.1" cy="100.4" r="0.9"/>
<circle cx="352.5" cy="84.2" r="1.0"/>
<circle cx="702.0" cy="105.0" r="1.1"/>
<circle cx="705.6" cy="103.9" r="0.9"/>
<circle cx="702.9" cy="105.2" r="1.4"/>
<circle cx="856.8" cy="247.9" r="1.5"/>
<circle cx="916.2" cy="190.0" r="1.6"/>
<circle cx="886.7" cy="186.8" r="1.3"/>
<circle cx="836.0" cy="265.1" r="1.5"/>
<circle cx="951.7" cy="264.7" r="1.5"/>
<circle cx="964.4" cy="233.5" r="1.4"/>
<circle cx="846.7" cy="289.7" r="1.4"/>
<circle cx="841.0" cy="301.5" r="1.4"/>
<circle cx="945.2" cy="287.6" r="1.2"/>
<circle cx="856.8" cy="248.0" r="1.4"/>
<circle cx="845.9" cy="328.4" r="0.8"/>
<circle cx="847.3" cy="376.2" r="0.9"/>
<circle cx="330.9" cy="521.2" r="1.0"/>
<circle cx="372.7" cy="534.1" r="1.0"/>
<circle cx="901.8" cy="440.7" r="1.2"/>
<circle cx="862.2" cy="429.9" r="1.3"/>
<circle cx="945.8" cy="458.4" r="1.0"/>
<circle cx="956.0" cy="559.8" r="0.9"/>
<circle cx="111.0" cy="440.3" r="0.6"/>
</g>
<g fill="none" stroke="#000" stroke-width="2.3" stroke-linecap="butt" stroke-linejoin="round">
<path d="M175.6 30.0C176.2 32.1 177.8 37.9 179.3 42.4C180.7 47.0 182.2 51.1 184.2 57.3C186.3 63.5 191.3 72.2 191.7 79.7C192.1 87.1 186.3 94.6 186.7 102.0C187.1 109.5 190.5 119.0 194.2 124.4C197.9 129.8 202.5 131.8 209.1 134.3C215.7 136.8 226.5 136.8 233.9 139.3C241.4 141.8 248.4 145.1 253.8 149.2C259.2 153.4 263.5 159.6 266.2 164.1C268.9 168.7 270.3 172.4 269.9 176.5C269.5 180.7 267.2 184.8 263.7 189.0C260.2 193.1 254.3 198.2 248.8 201.4C243.3 204.6 237.2 205.9 230.7 208.2C224.3 210.5 213.4 214.0 209.9 215.1"/>
<path d="M179.5 225.4C176.0 227.6 164.2 233.2 158.7 238.7C153.1 244.1 149.1 250.7 146.2 258.1C143.3 265.5 142.0 274.2 141.5 283.0C141.0 291.8 142.4 301.5 143.4 310.7C144.5 320.0 145.9 331.0 147.6 338.4C149.3 345.9 150.7 348.2 153.5 355.2C156.4 362.2 161.4 372.6 164.6 380.4C167.7 388.3 171.1 397.5 172.4 402.5C173.7 407.5 173.7 408.5 172.4 410.4C171.1 412.2 167.4 413.5 164.6 413.5C161.7 413.5 160.4 413.5 155.1 410.4C149.8 407.2 138.6 398.3 133.0 394.6C127.5 390.9 126.2 389.6 122.0 388.3C117.8 387.0 115.4 388.7 107.8 386.7C100.2 384.8 81.6 378.3 76.3 376.6"/>
<path d="M385.1 209.3C388.0 209.4 396.7 210.1 402.0 210.1C407.3 210.0 412.6 210.1 416.9 208.8C421.3 207.6 425.7 205.3 428.1 202.6C430.5 199.9 431.3 196.0 431.3 192.7C431.3 189.4 430.5 186.1 428.1 182.7C425.7 179.4 421.7 175.5 416.9 172.8C412.2 170.1 405.8 167.7 399.5 166.6C393.3 165.5 385.9 165.5 379.7 166.1C373.5 166.7 366.8 168.2 362.3 170.3C357.7 172.5 354.4 175.9 352.4 179.0C350.3 182.1 349.5 185.6 349.9 189.0C350.3 192.3 354.0 197.2 354.8 198.9"/>
<path d="M295.0 318.5C299.1 317.7 312.6 314.7 319.4 313.5C326.2 312.3 331.8 311.6 336.0 311.3C340.3 311.0 342.1 311.1 344.9 311.6C347.7 312.2 349.9 313.6 352.9 314.5C356.0 315.4 359.4 316.8 363.2 316.8C367.1 316.8 371.5 315.5 375.8 314.5C380.2 313.5 385.4 311.9 389.6 311.1C393.8 310.3 395.7 310.0 401.1 309.7C406.4 309.4 414.1 309.4 421.7 309.3C429.3 309.3 440.6 308.5 446.6 309.5C452.6 310.4 455.5 312.7 457.7 315.0C459.9 317.3 460.2 319.9 459.9 323.3C459.7 326.8 459.0 332.1 456.3 335.8C453.6 339.5 448.2 342.9 443.9 345.5C439.5 348.0 437.3 349.1 430.0 351.0C422.7 352.9 407.5 355.6 400.0 356.8C392.5 358.0 391.9 357.1 385.2 358.4C378.5 359.7 368.4 362.0 360.0 364.7C351.6 367.3 343.7 372.1 334.8 374.1C325.8 376.1 316.4 376.1 306.4 376.6C296.4 377.2 284.3 377.4 274.9 377.3C265.4 377.1 257.0 377.3 249.7 375.7C242.3 374.1 235.2 371.2 230.7 367.8C226.3 364.4 223.9 359.4 222.9 355.2C221.8 351.0 222.7 346.8 224.4 342.6C226.2 338.4 229.7 332.9 233.5 330.1C237.3 327.4 242.0 325.5 247.4 326.0C252.7 326.4 262.4 331.7 265.4 332.9"/>
<path d="M369.7 30.0C371.4 33.3 375.5 44.5 379.7 49.9C383.8 55.3 388.8 57.7 394.6 62.3C400.4 66.8 407.8 72.2 414.4 77.2C421.1 82.2 428.9 87.1 434.3 92.1C439.7 97.1 442.6 101.6 446.7 107.0C450.9 112.4 454.6 119.4 459.2 124.4C463.7 129.3 469.1 133.1 474.1 136.8C479.0 140.5 484.0 143.0 489.0 146.7C493.9 150.5 498.9 155.4 503.9 159.2C508.8 162.9 513.8 165.8 518.8 169.1C523.7 172.4 529.5 175.7 533.7 179.0C537.8 182.3 541.1 184.8 543.6 189.0C546.1 193.1 549.0 199.2 548.6 203.9C548.1 208.5 542.8 211.7 540.8 216.6C538.9 221.5 536.2 227.7 536.7 233.3C537.2 238.8 540.8 244.8 543.6 249.9C546.4 255.0 550.1 261.0 553.3 263.7C556.6 266.5 558.6 266.7 563.0 266.5C567.4 266.3 573.2 264.2 579.6 262.4C586.1 260.5 593.5 257.0 601.8 255.4C610.1 253.8 618.9 253.6 629.5 252.7C640.2 251.7 654.5 251.0 665.6 249.9C676.6 248.7 686.4 246.7 696.0 245.7C705.6 244.7 712.9 245.3 723.2 243.8C733.4 242.3 747.2 239.2 757.5 236.9C767.9 234.6 775.9 232.6 785.0 230.0C794.2 227.4 802.8 224.0 812.6 221.4C822.3 218.9 832.5 216.6 843.5 214.6C854.5 212.6 872.7 210.3 878.6 209.4"/>
<path d="M906.3 202.6C909.8 202.3 920.3 201.2 927.3 200.5C934.3 199.8 939.2 199.3 948.4 198.4C957.5 197.5 976.4 195.8 982.0 195.2"/>
<path d="M474.3 30.0C474.6 33.7 474.3 44.3 475.7 52.2C477.1 60.0 479.2 68.8 482.7 77.1C486.1 85.4 491.4 95.1 496.5 102.1C501.6 109.0 506.7 113.6 513.1 118.7C519.6 123.8 527.9 128.4 535.3 132.5C542.7 136.7 549.2 140.4 557.5 143.6C565.8 146.9 576.9 149.2 585.2 151.9C593.5 154.7 600.9 157.5 607.4 160.2C613.8 163.0 619.8 165.3 624.0 168.6C628.1 171.8 629.5 175.5 632.3 179.6C635.1 183.8 636.9 189.3 640.6 193.5C644.3 197.7 648.9 201.6 654.5 204.6C660.0 207.6 666.9 209.9 673.9 211.5C680.8 213.1 690.7 213.8 696.0 214.3C701.4 214.8 701.4 214.7 706.0 214.6C710.5 214.4 716.7 214.3 723.2 213.5C729.6 212.8 740.9 210.7 744.5 210.1"/>
<path d="M772.0 203.6C775.3 201.9 785.2 196.7 791.9 193.9C798.7 191.2 804.0 189.3 812.6 187.0C821.1 184.8 832.6 182.2 843.5 180.2C854.4 178.2 866.4 176.4 877.9 175.0C889.3 173.6 894.5 172.8 912.3 171.6C930.0 170.3 972.4 168.1 984.5 167.4"/>
<path d="M550.5 30.0C548.0 32.8 539.2 41.1 535.3 46.6C531.4 52.2 528.6 57.7 527.0 63.3C525.4 68.8 525.5 75.5 525.6 79.9C525.7 84.3 527.2 88.0 527.5 89.6"/>
<path d="M549.2 111.8C552.4 113.4 561.6 118.9 568.6 121.5C575.5 124.0 583.3 126.1 590.7 127.0C598.1 127.9 606.4 127.5 612.9 127.0C619.4 126.5 625.6 126.1 629.5 124.2C633.5 122.4 635.1 120.1 636.5 115.9C637.8 111.8 638.1 105.3 637.8 99.3C637.6 93.3 636.5 86.3 635.1 79.9C633.7 73.4 631.8 66.5 629.5 60.5C627.2 54.5 623.3 48.9 621.2 43.9C619.1 38.8 617.8 32.3 617.1 30.0"/>
<path d="M677.4 30.0C676.9 33.3 675.8 44.1 674.4 49.9C673.1 55.7 670.1 60.2 669.5 64.8C668.9 69.3 669.5 73.1 670.7 77.2C672.0 81.3 673.8 85.1 676.9 89.6C680.0 94.2 685.2 100.0 689.3 104.5C693.5 109.1 696.8 112.8 701.8 116.9C706.7 121.1 712.9 125.8 719.2 129.3C725.4 132.9 732.4 135.8 739.0 138.0C745.6 140.3 752.6 141.6 758.9 143.0C765.2 144.4 773.8 145.7 776.8 146.2"/>
<path d="M805.6 149.2C809.0 149.6 819.7 151.0 825.9 151.7C832.2 152.4 835.0 153.3 843.1 153.2C851.3 153.0 865.6 151.9 874.7 151.0C883.8 150.2 889.8 148.1 897.9 147.9C905.9 147.7 914.7 150.0 923.1 150.0C931.5 150.0 938.5 149.3 948.4 147.9C958.2 146.5 976.4 142.6 982.0 141.6"/>
<path d="M737.8 30.0C735.5 33.3 727.8 44.1 724.1 49.9C720.4 55.7 717.1 60.2 715.4 64.8C713.8 69.3 713.6 73.7 714.2 77.2C714.8 80.7 715.8 83.4 719.2 85.9C722.5 88.4 728.3 90.4 734.1 92.1C739.8 93.7 747.3 95.0 753.9 95.8C760.5 96.6 767.2 97.3 773.8 97.1C780.4 96.9 787.3 95.2 793.7 94.6C800.0 94.0 806.4 92.9 811.8 93.4C817.2 93.9 821.2 95.6 826.0 97.4C830.8 99.3 838.3 103.3 840.7 104.5"/>
<path d="M869.1 121.1C872.6 121.3 881.7 122.5 889.9 122.3C898.1 122.1 909.6 120.5 918.3 119.9C927.0 119.3 931.7 118.5 942.0 118.7C952.2 118.9 973.5 120.7 979.8 121.1"/>
<path d="M75.0 478.6C79.5 480.1 95.5 486.1 102.3 487.8C109.1 489.4 110.6 486.7 115.9 488.5C121.3 490.3 128.6 495.3 134.6 498.4C140.6 501.5 147.0 504.5 152.0 507.1C156.9 509.7 161.1 511.8 164.4 514.1C167.7 516.4 169.6 518.0 171.8 520.8C174.1 523.6 178.0 528.0 178.0 530.7C178.0 533.4 175.8 535.1 171.8 536.9C167.9 538.8 159.4 540.0 154.4 541.9C149.5 543.8 148.2 545.5 142.0 548.1C135.8 550.7 122.6 555.8 117.2 557.3C111.8 558.8 113.5 556.2 109.7 557.3C106.0 558.4 98.1 561.8 94.8 563.8C91.5 565.7 91.9 567.6 89.9 568.7C87.9 569.8 82.9 570.0 82.9 570.5C82.9 571.0 87.1 570.7 89.9 571.7C92.7 572.7 96.5 575.4 99.8 576.7C103.1 577.9 105.6 578.8 109.7 579.2C113.9 579.5 118.8 579.3 124.6 578.7C130.4 578.0 138.3 576.8 144.5 575.4C150.7 574.1 156.9 572.4 161.9 570.5C166.9 568.5 170.6 566.4 174.3 563.8C178.0 561.1 181.4 557.1 184.2 554.3C187.1 551.5 188.4 549.1 191.7 546.9C195.0 544.6 198.7 542.9 204.1 540.7C209.5 538.4 216.5 535.5 224.0 533.2C231.4 530.9 241.4 528.4 248.8 527.0C256.3 525.6 261.2 525.8 268.7 525.0C276.1 524.3 286.9 523.6 293.5 522.5C300.2 521.4 301.0 521.0 308.4 518.3C315.8 515.6 328.9 511.2 337.9 506.5C346.9 501.8 358.4 492.8 362.5 490.1"/>
<path d="M390.2 470.2C394.3 468.1 406.2 462.3 414.6 457.3C422.9 452.3 432.2 445.2 440.3 440.1C448.5 435.1 456.6 430.8 463.3 427.2C470.0 423.7 475.7 420.6 480.5 418.7C485.2 416.7 487.1 415.5 491.9 415.8C496.7 416.0 502.4 418.2 509.1 420.1C515.8 422.0 523.9 425.3 532.0 427.2C540.2 429.2 548.7 430.6 557.8 431.5C566.9 432.5 578.4 433.0 586.5 433.0C594.6 433.0 601.7 432.3 606.5 431.5C611.4 430.8 612.3 429.3 615.4 428.7C618.5 428.1 622.5 427.4 624.9 427.8C627.4 428.1 629.8 429.2 630.3 430.6C630.8 432.1 630.0 434.1 627.8 436.4C625.6 438.6 621.0 441.1 617.3 444.0C613.6 446.9 609.7 449.9 605.8 453.5C602.0 457.2 598.2 461.3 594.4 466.0C590.6 470.6 586.7 475.8 582.9 481.2C579.1 486.7 574.6 493.0 571.5 498.4C568.3 503.8 566.4 506.8 563.8 513.7C561.3 520.6 557.7 533.1 556.2 540.0C554.6 546.9 554.4 549.7 554.6 555.3C554.9 560.9 555.9 567.5 557.7 573.6C559.5 579.7 562.0 585.8 565.3 592.0C568.7 598.1 573.0 604.9 577.6 610.3C582.1 615.6 587.2 620.0 592.8 624.0C598.4 628.1 605.8 630.9 611.2 634.7C616.5 638.6 621.6 642.4 624.9 647.0C628.2 651.6 629.3 657.2 631.1 662.3C632.8 667.3 634.9 675.0 635.6 677.5"/>
<path d="M735.0 680.0C734.7 673.3 734.2 651.7 733.0 640.0C731.8 628.3 736.1 625.0 728.0 610.0C719.9 595.0 692.7 563.8 684.5 550.2C676.2 536.7 680.9 536.0 678.4 528.8C675.8 521.7 672.2 513.5 669.2 507.4C666.1 501.3 662.6 496.5 660.0 492.1C657.4 487.8 655.0 485.3 653.6 481.2C652.2 477.2 651.5 472.6 651.7 467.9C651.8 463.1 652.6 457.7 654.6 452.6C656.5 447.5 659.8 443.4 663.2 437.3C666.5 431.3 671.1 422.7 674.6 416.3C678.1 409.9 680.3 403.9 684.2 399.1C688.0 394.3 692.8 390.8 697.5 387.6C702.3 384.5 706.3 384.0 712.8 380.0C719.3 376.0 728.3 369.0 736.5 363.6C744.6 358.3 757.4 350.4 761.6 347.7"/>
<path d="M787.4 334.7C791.6 333.0 804.9 328.0 812.6 324.2C820.3 320.3 826.6 315.4 833.7 311.6C840.7 307.7 847.3 304.2 854.7 301.0C862.1 297.9 869.1 294.5 877.9 292.6C886.6 290.7 897.1 290.2 907.3 289.5C917.5 288.7 927.0 288.2 938.9 288.0C950.8 287.7 972.2 288.0 978.9 288.0"/>
<path d="M978.1 516.6C971.0 516.7 947.5 516.9 935.3 517.2C923.1 517.5 912.4 517.2 904.7 518.1C897.1 519.0 893.0 520.4 889.4 522.7C885.8 525.0 883.8 528.8 883.3 531.9C882.8 534.9 884.7 538.7 886.4 541.1C888.0 543.4 890.2 544.4 893.0 546.0C895.7 547.7 901.0 550.2 902.6 551.1"/>
<path d="M930.1 566.0C932.3 567.6 938.9 572.9 943.4 575.8C947.9 578.8 951.0 581.8 957.1 583.9C963.2 586.0 976.2 587.7 980.1 588.5"/>
<path d="M943.8 614.8 L980.1 601.5"/>
<path d="M934.7 635.0C937.3 635.3 942.7 635.0 950.3 636.6C957.8 638.2 975.1 643.3 980.1 644.6"/>
</g>
<text transform="translate(194.71 219.84) rotate(-20.0)" x="0" y="7.3" font-family="'Liberation Sans', sans-serif" font-size="20" text-anchor="middle" fill="#000">0.3</text>
<text transform="translate(370.24 207.08) rotate(10.0)" x="0" y="7.3" font-family="'Liberation Sans', sans-serif" font-size="20" text-anchor="middle" fill="#000">0.3</text>
<text transform="translate(280.61 330.13) rotate(-20.0)" x="0" y="7.3" font-family="'Liberation Sans', sans-serif" font-size="20" text-anchor="middle" fill="#000">0.6</text>
<text transform="translate(892.59 205.76) rotate(-5.0)" x="0" y="7.3" font-family="'Liberation Sans', sans-serif" font-size="20" text-anchor="middle" fill="#000">0.6</text>
<text transform="translate(758.22 205.96) rotate(-8.0)" x="0" y="7.3" font-family="'Liberation Sans', sans-serif" font-size="20" text-anchor="middle" fill="#000">0.9</text>
<text transform="translate(538.08 101.50) rotate(38.0)" x="0" y="7.3" font-family="'Liberation Sans', sans-serif" font-size="20" text-anchor="middle" fill="#000">1.2</text>
<text transform="translate(791.18 147.97) rotate(5.0)" x="0" y="7.3" font-family="'Liberation Sans', sans-serif" font-size="20" text-anchor="middle" fill="#000">0.9</text>
<text transform="translate(854.89 113.28) rotate(20.0)" x="0" y="7.3" font-family="'Liberation Sans', sans-serif" font-size="20" text-anchor="middle" fill="#000">0.6</text>
<text transform="translate(375.73 481.29) rotate(-25.0)" x="0" y="7.3" font-family="'Liberation Sans', sans-serif" font-size="20" text-anchor="middle" fill="#000">0.3</text>
<text transform="translate(773.18 342.24) rotate(-22.0)" x="0" y="7.3" font-family="'Liberation Sans', sans-serif" font-size="20" text-anchor="middle" fill="#000">0.3</text>
<text transform="translate(915.87 557.97) rotate(30.0)" x="0" y="7.3" font-family="'Liberation Sans', sans-serif" font-size="20" text-anchor="middle" fill="#000">0.3</text>
<text transform="translate(929.63 623.98) rotate(-65.0)" x="0" y="7.3" font-family="'Liberation Sans', sans-serif" font-size="20" text-anchor="middle" fill="#000">0.3</text>
</g>

<rect x="78.5" y="36.5" width="891.0" height="636.0" fill="none" stroke="#000" stroke-width="1.0"/>
<text x="523.2" y="28.3" font-family="'Liberation Sans', sans-serif" font-size="20" text-anchor="middle" textLength="760" lengthAdjust="spacing" fill="#000">2025121500 F108 500 hPa PV, IVT Landfall PC (2025121712 - 2025122012)</text>
<text x="205.7" y="697" font-family="'Liberation Sans', sans-serif" font-size="19.5" text-anchor="middle" fill="#808080">170°W</text>
<text x="333.1" y="697" font-family="'Liberation Sans', sans-serif" font-size="19.5" text-anchor="middle" fill="#808080">160°W</text>
<text x="460.5" y="697" font-family="'Liberation Sans', sans-serif" font-size="19.5" text-anchor="middle" fill="#808080">150°W</text>
<text x="588.0" y="697" font-family="'Liberation Sans', sans-serif" font-size="19.5" text-anchor="middle" fill="#808080">140°W</text>
<text x="715.4" y="697" font-family="'Liberation Sans', sans-serif" font-size="19.5" text-anchor="middle" fill="#808080">130°W</text>
<text x="842.8" y="697" font-family="'Liberation Sans', sans-serif" font-size="19.5" text-anchor="middle" fill="#808080">120°W</text>
<text x="68.1" y="552.1" font-family="'Liberation Sans', sans-serif" font-size="19.5" text-anchor="end" fill="#808080">20°N</text>
<text x="68.1" y="424.7" font-family="'Liberation Sans', sans-serif" font-size="19.5" text-anchor="end" fill="#808080">30°N</text>
<text x="68.1" y="297.4" font-family="'Liberation Sans', sans-serif" font-size="19.5" text-anchor="end" fill="#808080">40°N</text>
<text x="68.1" y="170.0" font-family="'Liberation Sans', sans-serif" font-size="19.5" text-anchor="end" fill="#808080">50°N</text>
<path d="M143.00 703.5H58.44L12.4 715.00L58.44 726.5H143.00Z" fill="#9932CC"/>
<rect x="143.00" y="703.5" width="84.86" height="23.0" fill="#00008B"/>
<rect x="227.56" y="703.5" width="84.86" height="23.0" fill="#3A5FCD"/>
<rect x="312.11" y="703.5" width="84.86" height="23.0" fill="#00BFFF"/>
<rect x="396.67" y="703.5" width="84.86" height="23.0" fill="#B0E2FF"/>
<rect x="481.22" y="703.5" width="84.86" height="23.0" fill="#FFFFFF"/>
<rect x="565.78" y="703.5" width="84.86" height="23.0" fill="#FFEC8B"/>
<rect x="650.33" y="703.5" width="84.86" height="23.0" fill="#FFA500"/>
<rect x="734.89" y="703.5" width="84.86" height="23.0" fill="#FF4500"/>
<rect x="819.44" y="703.5" width="84.86" height="23.0" fill="#B22222"/>
<path d="M904.00 703.5H988.56L1034.6 715.00L988.56 726.5H904.00Z" fill="#FF82AB"/>
<path d="M58.44 703.5H988.56L1034.6 715.00L988.56 726.5H58.44L12.4 715.00Z" fill="none" stroke="#000" stroke-width="1.0" stroke-linejoin="miter"/>
<path d="M143.5 726.5V732.50" stroke="#000" stroke-width="1.0"/>
<text x="143.5" y="750.6" font-family="'Liberation Sans', sans-serif" font-size="16" text-anchor="middle" fill="#000">−0.60</text>
<path d="M228.5 726.5V732.50" stroke="#000" stroke-width="1.0"/>
<text x="228.5" y="750.6" font-family="'Liberation Sans', sans-serif" font-size="16" text-anchor="middle" fill="#000">−0.48</text>
<path d="M312.5 726.5V732.50" stroke="#000" stroke-width="1.0"/>
<text x="312.5" y="750.6" font-family="'Liberation Sans', sans-serif" font-size="16" text-anchor="middle" fill="#000">−0.36</text>
<path d="M397.5 726.5V732.50" stroke="#000" stroke-width="1.0"/>
<text x="397.5" y="750.6" font-family="'Liberation Sans', sans-serif" font-size="16" text-anchor="middle" fill="#000">−0.24</text>
<path d="M481.5 726.5V732.50" stroke="#000" stroke-width="1.0"/>
<text x="481.5" y="750.6" font-family="'Liberation Sans', sans-serif" font-size="16" text-anchor="middle" fill="#000">−0.12</text>
<path d="M566.5 726.5V732.50" stroke="#000" stroke-width="1.0"/>
<text x="566.5" y="750.6" font-family="'Liberation Sans', sans-serif" font-size="16" text-anchor="middle" fill="#000">0.12</text>
<path d="M650.5 726.5V732.50" stroke="#000" stroke-width="1.0"/>
<text x="650.5" y="750.6" font-family="'Liberation Sans', sans-serif" font-size="16" text-anchor="middle" fill="#000">0.24</text>
<path d="M735.5 726.5V732.50" stroke="#000" stroke-width="1.0"/>
<text x="735.5" y="750.6" font-family="'Liberation Sans', sans-serif" font-size="16" text-anchor="middle" fill="#000">0.36</text>
<path d="M819.5 726.5V732.50" stroke="#000" stroke-width="1.0"/>
<text x="819.5" y="750.6" font-family="'Liberation Sans', sans-serif" font-size="16" text-anchor="middle" fill="#000">0.48</text>
<path d="M904.5 726.5V732.50" stroke="#000" stroke-width="1.0"/>
<text x="904.5" y="750.6" font-family="'Liberation Sans', sans-serif" font-size="16" text-anchor="middle" fill="#000">0.60</text>
</svg></body></html>
